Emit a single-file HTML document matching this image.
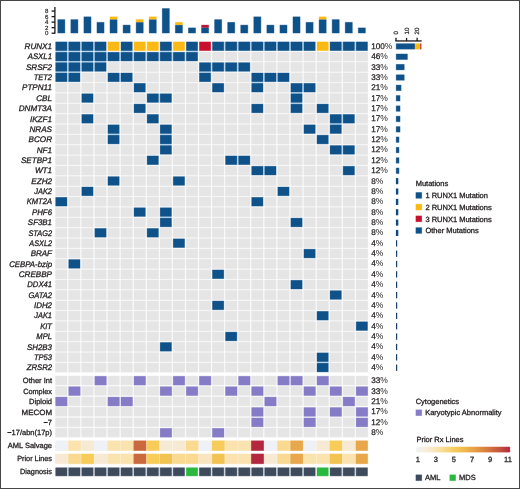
<!DOCTYPE html>
<html lang="en"><head><meta charset="utf-8"><title>RUNX1 oncoprint</title>
<style>
html,body{margin:0;padding:0;background:#fff;}
body{width:520px;height:489px;overflow:hidden;position:relative;}
#fig{position:absolute;left:0;top:0;width:520px;height:489px;display:block;}
#frame{position:absolute;left:0;top:0;width:518px;height:487px;border:1px solid #474747;pointer-events:none;}
text{font-family:"Liberation Sans",Arial,Helvetica,sans-serif;font-size:8px;fill:#231f20;stroke:#231f20;stroke-width:0.3px;text-rendering:geometricPrecision;}
.g{font-style:italic;font-size:8.1px;}
.ax{font-size:6.1px;stroke-width:0.18px;}
.rx{font-size:6.2px;stroke-width:0.2px;}
.lg{font-size:7.5px;}
.cy{font-size:7.5px;}
.pc{font-size:8.2px;stroke-width:0.25px;}
.pt{font-size:8.5px;stroke:none;}
</style></head><body>
<svg id="fig" width="520" height="489" viewBox="0 0 520 489">
<defs>
<linearGradient id="hg" x1="0" y1="0" x2="1" y2="0"><stop offset="0" stop-color="#f2f3f4"/><stop offset="0.1" stop-color="#f7efdc"/><stop offset="0.2" stop-color="#f9e6b8"/><stop offset="0.3" stop-color="#f9da8c"/><stop offset="0.4" stop-color="#f7cd5c"/><stop offset="0.5" stop-color="#f2bc4c"/><stop offset="0.6" stop-color="#e9a444"/><stop offset="0.7" stop-color="#df8a40"/><stop offset="0.8" stop-color="#d26e3e"/><stop offset="0.9" stop-color="#c4503e"/><stop offset="1" stop-color="#b4283f"/></linearGradient>
</defs>
<rect x="0" y="0" width="520" height="489" fill="#fff"/>
<defs><g id="shp">
<rect x="-2" y="-2" width="524" height="493" fill="#fff"/>
<rect x="57.55" y="19.38" width="7.5" height="13.83" fill="#0f5289"/>
<rect x="70.62" y="19.38" width="7.5" height="13.83" fill="#0f5289"/>
<rect x="83.69" y="16.61" width="7.5" height="16.59" fill="#0f5289"/>
<rect x="96.75" y="22.14" width="7.5" height="11.06" fill="#0f5289"/>
<rect x="109.82" y="19.38" width="7.5" height="13.83" fill="#0f5289"/>
<rect x="109.82" y="16.61" width="7.5" height="2.77" fill="#fdb913"/>
<rect x="122.89" y="24.91" width="7.5" height="8.29" fill="#0f5289"/>
<rect x="135.96" y="22.14" width="7.5" height="11.06" fill="#0f5289"/>
<rect x="135.96" y="19.38" width="7.5" height="2.77" fill="#fdb913"/>
<rect x="149.03" y="19.38" width="7.5" height="13.83" fill="#0f5289"/>
<rect x="149.03" y="16.61" width="7.5" height="2.77" fill="#fdb913"/>
<rect x="162.09" y="8.32" width="7.5" height="24.89" fill="#0f5289"/>
<rect x="175.16" y="24.91" width="7.5" height="8.29" fill="#0f5289"/>
<rect x="175.16" y="22.14" width="7.5" height="2.77" fill="#fdb913"/>
<rect x="188.23" y="27.67" width="7.5" height="5.53" fill="#0f5289"/>
<rect x="201.3" y="27.67" width="7.5" height="5.53" fill="#0f5289"/>
<rect x="201.3" y="24.91" width="7.5" height="2.77" fill="#b5123a"/>
<rect x="214.37" y="19.38" width="7.5" height="13.83" fill="#0f5289"/>
<rect x="227.43" y="22.14" width="7.5" height="11.06" fill="#0f5289"/>
<rect x="240.5" y="24.91" width="7.5" height="8.29" fill="#0f5289"/>
<rect x="253.57" y="16.61" width="7.5" height="16.59" fill="#0f5289"/>
<rect x="266.64" y="24.91" width="7.5" height="8.29" fill="#0f5289"/>
<rect x="279.71" y="24.91" width="7.5" height="8.29" fill="#0f5289"/>
<rect x="292.77" y="16.61" width="7.5" height="16.59" fill="#0f5289"/>
<rect x="305.84" y="22.14" width="7.5" height="11.06" fill="#0f5289"/>
<rect x="318.91" y="19.38" width="7.5" height="13.83" fill="#0f5289"/>
<rect x="318.91" y="16.61" width="7.5" height="2.77" fill="#fdb913"/>
<rect x="331.98" y="19.38" width="7.5" height="13.83" fill="#0f5289"/>
<rect x="345.05" y="22.14" width="7.5" height="11.06" fill="#0f5289"/>
<rect x="358.11" y="27.67" width="7.5" height="5.53" fill="#0f5289"/>
<rect x="67.05" y="41.7" width="1.57" height="9.1" fill="#c6e2f8"/>
<rect x="55.45" y="50.7" width="11.7" height="1.47" fill="#c6e2f8"/>
<rect x="80.12" y="41.7" width="1.57" height="9.1" fill="#c6e2f8"/>
<rect x="68.52" y="50.7" width="11.7" height="1.47" fill="#c6e2f8"/>
<rect x="93.19" y="41.7" width="1.57" height="9.1" fill="#c6e2f8"/>
<rect x="81.59" y="50.7" width="11.7" height="1.47" fill="#c6e2f8"/>
<rect x="94.65" y="50.7" width="11.7" height="1.47" fill="#c6e2f8"/>
<rect x="120.79" y="50.7" width="11.7" height="1.47" fill="#c6e2f8"/>
<rect x="159.99" y="50.7" width="11.7" height="1.47" fill="#c6e2f8"/>
<rect x="186.13" y="50.7" width="11.7" height="1.47" fill="#c6e2f8"/>
<rect x="223.87" y="41.7" width="1.57" height="9.1" fill="#c6e2f8"/>
<rect x="236.93" y="41.7" width="1.57" height="9.1" fill="#c6e2f8"/>
<rect x="250" y="41.7" width="1.57" height="9.1" fill="#c6e2f8"/>
<rect x="263.07" y="41.7" width="1.57" height="9.1" fill="#c6e2f8"/>
<rect x="276.14" y="41.7" width="1.57" height="9.1" fill="#c6e2f8"/>
<rect x="289.21" y="41.7" width="1.57" height="9.1" fill="#c6e2f8"/>
<rect x="302.27" y="41.7" width="1.57" height="9.1" fill="#c6e2f8"/>
<rect x="341.48" y="41.7" width="1.57" height="9.1" fill="#c6e2f8"/>
<rect x="354.55" y="41.7" width="1.57" height="9.1" fill="#c6e2f8"/>
<rect x="67.05" y="52.07" width="1.57" height="9.1" fill="#c6e2f8"/>
<rect x="55.45" y="61.06" width="11.7" height="1.47" fill="#c6e2f8"/>
<rect x="80.12" y="52.07" width="1.57" height="9.1" fill="#c6e2f8"/>
<rect x="68.52" y="61.06" width="11.7" height="1.47" fill="#c6e2f8"/>
<rect x="93.19" y="52.07" width="1.57" height="9.1" fill="#c6e2f8"/>
<rect x="81.59" y="61.06" width="11.7" height="1.47" fill="#c6e2f8"/>
<rect x="106.25" y="52.07" width="1.57" height="9.1" fill="#c6e2f8"/>
<rect x="94.65" y="61.06" width="11.7" height="1.47" fill="#c6e2f8"/>
<rect x="119.32" y="52.07" width="1.57" height="9.1" fill="#c6e2f8"/>
<rect x="132.39" y="52.07" width="1.57" height="9.1" fill="#c6e2f8"/>
<rect x="145.46" y="52.07" width="1.57" height="9.1" fill="#c6e2f8"/>
<rect x="158.53" y="52.07" width="1.57" height="9.1" fill="#c6e2f8"/>
<rect x="171.59" y="52.07" width="1.57" height="9.1" fill="#c6e2f8"/>
<rect x="184.66" y="52.07" width="1.57" height="9.1" fill="#c6e2f8"/>
<rect x="67.05" y="62.43" width="1.57" height="9.1" fill="#c6e2f8"/>
<rect x="55.45" y="71.43" width="11.7" height="1.47" fill="#c6e2f8"/>
<rect x="80.12" y="62.43" width="1.57" height="9.1" fill="#c6e2f8"/>
<rect x="68.52" y="71.43" width="11.7" height="1.47" fill="#c6e2f8"/>
<rect x="93.19" y="62.43" width="1.57" height="9.1" fill="#c6e2f8"/>
<rect x="210.8" y="62.43" width="1.57" height="9.1" fill="#c6e2f8"/>
<rect x="199.2" y="71.43" width="11.7" height="1.47" fill="#c6e2f8"/>
<rect x="223.87" y="62.43" width="1.57" height="9.1" fill="#c6e2f8"/>
<rect x="236.93" y="62.43" width="1.57" height="9.1" fill="#c6e2f8"/>
<rect x="67.05" y="72.8" width="1.57" height="9.1" fill="#c6e2f8"/>
<rect x="119.32" y="72.8" width="1.57" height="9.1" fill="#c6e2f8"/>
<rect x="263.07" y="72.8" width="1.57" height="9.1" fill="#c6e2f8"/>
<rect x="251.47" y="81.8" width="11.7" height="1.47" fill="#c6e2f8"/>
<rect x="276.14" y="72.8" width="1.57" height="9.1" fill="#c6e2f8"/>
<rect x="302.27" y="83.16" width="1.57" height="9.1" fill="#c6e2f8"/>
<rect x="290.67" y="92.16" width="11.7" height="1.47" fill="#c6e2f8"/>
<rect x="158.53" y="93.53" width="1.57" height="9.1" fill="#c6e2f8"/>
<rect x="290.67" y="102.53" width="11.7" height="1.47" fill="#c6e2f8"/>
<rect x="341.48" y="114.26" width="1.57" height="9.1" fill="#c6e2f8"/>
<rect x="329.88" y="123.26" width="11.7" height="1.47" fill="#c6e2f8"/>
<rect x="107.72" y="133.62" width="11.7" height="1.47" fill="#c6e2f8"/>
<rect x="159.99" y="133.62" width="11.7" height="1.47" fill="#c6e2f8"/>
<rect x="159.99" y="143.99" width="11.7" height="1.47" fill="#c6e2f8"/>
<rect x="341.48" y="145.35" width="1.57" height="9.1" fill="#c6e2f8"/>
<rect x="236.93" y="155.71" width="1.57" height="9.1" fill="#c6e2f8"/>
<rect x="263.07" y="166.08" width="1.57" height="9.1" fill="#c6e2f8"/>
<rect x="159.99" y="216.54" width="11.7" height="1.47" fill="#c6e2f8"/>
<rect x="316.81" y="361.65" width="11.7" height="1.47" fill="#c6e2f8"/>
<rect x="55.45" y="41.7" width="11.7" height="9.1" fill="#0f5289"/>
<rect x="68.52" y="41.7" width="11.7" height="9.1" fill="#0f5289"/>
<rect x="81.59" y="41.7" width="11.7" height="9.1" fill="#0f5289"/>
<rect x="94.65" y="41.7" width="11.7" height="9.1" fill="#0f5289"/>
<rect x="107.72" y="41.7" width="11.7" height="9.1" fill="#fdb913"/>
<rect x="120.79" y="41.7" width="11.7" height="9.1" fill="#0f5289"/>
<rect x="133.86" y="41.7" width="11.7" height="9.1" fill="#fdb913"/>
<rect x="146.93" y="41.7" width="11.7" height="9.1" fill="#fdb913"/>
<rect x="159.99" y="41.7" width="11.7" height="9.1" fill="#0f5289"/>
<rect x="173.06" y="41.7" width="11.7" height="9.1" fill="#fdb913"/>
<rect x="186.13" y="41.7" width="11.7" height="9.1" fill="#0f5289"/>
<rect x="199.2" y="41.7" width="11.7" height="9.1" fill="#c8102e"/>
<rect x="212.27" y="41.7" width="11.7" height="9.1" fill="#0f5289"/>
<rect x="225.33" y="41.7" width="11.7" height="9.1" fill="#0f5289"/>
<rect x="238.4" y="41.7" width="11.7" height="9.1" fill="#0f5289"/>
<rect x="251.47" y="41.7" width="11.7" height="9.1" fill="#0f5289"/>
<rect x="264.54" y="41.7" width="11.7" height="9.1" fill="#0f5289"/>
<rect x="277.61" y="41.7" width="11.7" height="9.1" fill="#0f5289"/>
<rect x="290.67" y="41.7" width="11.7" height="9.1" fill="#0f5289"/>
<rect x="303.74" y="41.7" width="11.7" height="9.1" fill="#0f5289"/>
<rect x="316.81" y="41.7" width="11.7" height="9.1" fill="#fdb913"/>
<rect x="329.88" y="41.7" width="11.7" height="9.1" fill="#0f5289"/>
<rect x="342.95" y="41.7" width="11.7" height="9.1" fill="#0f5289"/>
<rect x="356.01" y="41.7" width="11.7" height="9.1" fill="#0f5289"/>
<rect x="396" y="43.45" width="19.03" height="5.9" fill="#0f5289"/>
<rect x="415.03" y="43.45" width="5.29" height="5.9" fill="#fdb913"/>
<rect x="420.31" y="43.45" width="1.06" height="5.9" fill="#b01029"/>
<rect x="55.45" y="52.07" width="11.7" height="9.1" fill="#0f5289"/>
<rect x="68.52" y="52.07" width="11.7" height="9.1" fill="#0f5289"/>
<rect x="81.59" y="52.07" width="11.7" height="9.1" fill="#0f5289"/>
<rect x="94.65" y="52.07" width="11.7" height="9.1" fill="#0f5289"/>
<rect x="107.72" y="52.07" width="11.7" height="9.1" fill="#0f5289"/>
<rect x="120.79" y="52.07" width="11.7" height="9.1" fill="#0f5289"/>
<rect x="133.86" y="52.07" width="11.7" height="9.1" fill="#0f5289"/>
<rect x="146.93" y="52.07" width="11.7" height="9.1" fill="#0f5289"/>
<rect x="159.99" y="52.07" width="11.7" height="9.1" fill="#0f5289"/>
<rect x="173.06" y="52.07" width="11.7" height="9.1" fill="#0f5289"/>
<rect x="186.13" y="52.07" width="11.7" height="9.1" fill="#0f5289"/>
<rect x="199.05" y="51.84" width="12" height="9.54" fill="#e5e5e5"/>
<rect x="212.12" y="51.84" width="12" height="9.54" fill="#e5e5e5"/>
<rect x="225.18" y="51.84" width="12" height="9.54" fill="#e5e5e5"/>
<rect x="238.25" y="51.84" width="12" height="9.54" fill="#e5e5e5"/>
<rect x="251.32" y="51.84" width="12" height="9.54" fill="#e5e5e5"/>
<rect x="264.39" y="51.84" width="12" height="9.54" fill="#e5e5e5"/>
<rect x="277.46" y="51.84" width="12" height="9.54" fill="#e5e5e5"/>
<rect x="290.52" y="51.84" width="12" height="9.54" fill="#e5e5e5"/>
<rect x="303.59" y="51.84" width="12" height="9.54" fill="#e5e5e5"/>
<rect x="316.66" y="51.84" width="12" height="9.54" fill="#e5e5e5"/>
<rect x="329.73" y="51.84" width="12" height="9.54" fill="#e5e5e5"/>
<rect x="342.8" y="51.84" width="12" height="9.54" fill="#e5e5e5"/>
<rect x="355.86" y="51.84" width="12" height="9.54" fill="#e5e5e5"/>
<rect x="396" y="53.81" width="11.63" height="5.9" fill="#0f5289"/>
<rect x="55.45" y="62.43" width="11.7" height="9.1" fill="#0f5289"/>
<rect x="68.52" y="62.43" width="11.7" height="9.1" fill="#0f5289"/>
<rect x="81.59" y="62.43" width="11.7" height="9.1" fill="#0f5289"/>
<rect x="94.65" y="62.43" width="11.7" height="9.1" fill="#0f5289"/>
<rect x="107.57" y="62.21" width="12" height="9.54" fill="#e5e5e5"/>
<rect x="120.64" y="62.21" width="12" height="9.54" fill="#e5e5e5"/>
<rect x="133.71" y="62.21" width="12" height="9.54" fill="#e5e5e5"/>
<rect x="146.78" y="62.21" width="12" height="9.54" fill="#e5e5e5"/>
<rect x="159.84" y="62.21" width="12" height="9.54" fill="#e5e5e5"/>
<rect x="172.91" y="62.21" width="12" height="9.54" fill="#e5e5e5"/>
<rect x="185.98" y="62.21" width="12" height="9.54" fill="#e5e5e5"/>
<rect x="199.2" y="62.43" width="11.7" height="9.1" fill="#0f5289"/>
<rect x="212.27" y="62.43" width="11.7" height="9.1" fill="#0f5289"/>
<rect x="225.33" y="62.43" width="11.7" height="9.1" fill="#0f5289"/>
<rect x="238.4" y="62.43" width="11.7" height="9.1" fill="#0f5289"/>
<rect x="251.32" y="62.21" width="12" height="9.54" fill="#e5e5e5"/>
<rect x="264.39" y="62.21" width="12" height="9.54" fill="#e5e5e5"/>
<rect x="277.46" y="62.21" width="12" height="9.54" fill="#e5e5e5"/>
<rect x="290.52" y="62.21" width="12" height="9.54" fill="#e5e5e5"/>
<rect x="303.59" y="62.21" width="12" height="9.54" fill="#e5e5e5"/>
<rect x="316.66" y="62.21" width="12" height="9.54" fill="#e5e5e5"/>
<rect x="329.73" y="62.21" width="12" height="9.54" fill="#e5e5e5"/>
<rect x="342.8" y="62.21" width="12" height="9.54" fill="#e5e5e5"/>
<rect x="355.86" y="62.21" width="12" height="9.54" fill="#e5e5e5"/>
<rect x="396" y="64.18" width="8.46" height="5.9" fill="#0f5289"/>
<rect x="55.45" y="72.8" width="11.7" height="9.1" fill="#0f5289"/>
<rect x="68.52" y="72.8" width="11.7" height="9.1" fill="#0f5289"/>
<rect x="81.44" y="72.58" width="12" height="9.54" fill="#e5e5e5"/>
<rect x="94.5" y="72.58" width="12" height="9.54" fill="#e5e5e5"/>
<rect x="107.72" y="72.8" width="11.7" height="9.1" fill="#0f5289"/>
<rect x="120.79" y="72.8" width="11.7" height="9.1" fill="#0f5289"/>
<rect x="133.71" y="72.58" width="12" height="9.54" fill="#e5e5e5"/>
<rect x="146.78" y="72.58" width="12" height="9.54" fill="#e5e5e5"/>
<rect x="159.84" y="72.58" width="12" height="9.54" fill="#e5e5e5"/>
<rect x="172.91" y="72.58" width="12" height="9.54" fill="#e5e5e5"/>
<rect x="185.98" y="72.58" width="12" height="9.54" fill="#e5e5e5"/>
<rect x="199.2" y="72.8" width="11.7" height="9.1" fill="#0f5289"/>
<rect x="212.12" y="72.58" width="12" height="9.54" fill="#e5e5e5"/>
<rect x="225.18" y="72.58" width="12" height="9.54" fill="#e5e5e5"/>
<rect x="238.25" y="72.58" width="12" height="9.54" fill="#e5e5e5"/>
<rect x="251.47" y="72.8" width="11.7" height="9.1" fill="#0f5289"/>
<rect x="264.54" y="72.8" width="11.7" height="9.1" fill="#0f5289"/>
<rect x="277.61" y="72.8" width="11.7" height="9.1" fill="#0f5289"/>
<rect x="290.52" y="72.58" width="12" height="9.54" fill="#e5e5e5"/>
<rect x="303.59" y="72.58" width="12" height="9.54" fill="#e5e5e5"/>
<rect x="316.66" y="72.58" width="12" height="9.54" fill="#e5e5e5"/>
<rect x="329.73" y="72.58" width="12" height="9.54" fill="#e5e5e5"/>
<rect x="342.8" y="72.58" width="12" height="9.54" fill="#e5e5e5"/>
<rect x="355.86" y="72.58" width="12" height="9.54" fill="#e5e5e5"/>
<rect x="396" y="74.55" width="8.46" height="5.9" fill="#0f5289"/>
<rect x="55.3" y="82.94" width="12" height="9.54" fill="#e5e5e5"/>
<rect x="68.37" y="82.94" width="12" height="9.54" fill="#e5e5e5"/>
<rect x="81.44" y="82.94" width="12" height="9.54" fill="#e5e5e5"/>
<rect x="94.5" y="82.94" width="12" height="9.54" fill="#e5e5e5"/>
<rect x="107.57" y="82.94" width="12" height="9.54" fill="#e5e5e5"/>
<rect x="120.64" y="82.94" width="12" height="9.54" fill="#e5e5e5"/>
<rect x="133.86" y="83.16" width="11.7" height="9.1" fill="#0f5289"/>
<rect x="146.78" y="82.94" width="12" height="9.54" fill="#e5e5e5"/>
<rect x="159.84" y="82.94" width="12" height="9.54" fill="#e5e5e5"/>
<rect x="172.91" y="82.94" width="12" height="9.54" fill="#e5e5e5"/>
<rect x="185.98" y="82.94" width="12" height="9.54" fill="#e5e5e5"/>
<rect x="199.05" y="82.94" width="12" height="9.54" fill="#e5e5e5"/>
<rect x="212.27" y="83.16" width="11.7" height="9.1" fill="#0f5289"/>
<rect x="225.18" y="82.94" width="12" height="9.54" fill="#e5e5e5"/>
<rect x="238.25" y="82.94" width="12" height="9.54" fill="#e5e5e5"/>
<rect x="251.47" y="83.16" width="11.7" height="9.1" fill="#0f5289"/>
<rect x="264.39" y="82.94" width="12" height="9.54" fill="#e5e5e5"/>
<rect x="277.46" y="82.94" width="12" height="9.54" fill="#e5e5e5"/>
<rect x="290.67" y="83.16" width="11.7" height="9.1" fill="#0f5289"/>
<rect x="303.74" y="83.16" width="11.7" height="9.1" fill="#0f5289"/>
<rect x="316.66" y="82.94" width="12" height="9.54" fill="#e5e5e5"/>
<rect x="329.73" y="82.94" width="12" height="9.54" fill="#e5e5e5"/>
<rect x="342.8" y="82.94" width="12" height="9.54" fill="#e5e5e5"/>
<rect x="355.86" y="82.94" width="12" height="9.54" fill="#e5e5e5"/>
<rect x="396" y="84.91" width="5.29" height="5.9" fill="#0f5289"/>
<rect x="55.3" y="93.31" width="12" height="9.54" fill="#e5e5e5"/>
<rect x="68.37" y="93.31" width="12" height="9.54" fill="#e5e5e5"/>
<rect x="81.59" y="93.53" width="11.7" height="9.1" fill="#0f5289"/>
<rect x="94.5" y="93.31" width="12" height="9.54" fill="#e5e5e5"/>
<rect x="107.57" y="93.31" width="12" height="9.54" fill="#e5e5e5"/>
<rect x="120.64" y="93.31" width="12" height="9.54" fill="#e5e5e5"/>
<rect x="133.71" y="93.31" width="12" height="9.54" fill="#e5e5e5"/>
<rect x="146.93" y="93.53" width="11.7" height="9.1" fill="#0f5289"/>
<rect x="159.99" y="93.53" width="11.7" height="9.1" fill="#0f5289"/>
<rect x="172.91" y="93.31" width="12" height="9.54" fill="#e5e5e5"/>
<rect x="185.98" y="93.31" width="12" height="9.54" fill="#e5e5e5"/>
<rect x="199.05" y="93.31" width="12" height="9.54" fill="#e5e5e5"/>
<rect x="212.12" y="93.31" width="12" height="9.54" fill="#e5e5e5"/>
<rect x="225.18" y="93.31" width="12" height="9.54" fill="#e5e5e5"/>
<rect x="238.25" y="93.31" width="12" height="9.54" fill="#e5e5e5"/>
<rect x="251.32" y="93.31" width="12" height="9.54" fill="#e5e5e5"/>
<rect x="264.39" y="93.31" width="12" height="9.54" fill="#e5e5e5"/>
<rect x="277.46" y="93.31" width="12" height="9.54" fill="#e5e5e5"/>
<rect x="290.67" y="93.53" width="11.7" height="9.1" fill="#0f5289"/>
<rect x="303.59" y="93.31" width="12" height="9.54" fill="#e5e5e5"/>
<rect x="316.66" y="93.31" width="12" height="9.54" fill="#e5e5e5"/>
<rect x="329.73" y="93.31" width="12" height="9.54" fill="#e5e5e5"/>
<rect x="342.8" y="93.31" width="12" height="9.54" fill="#e5e5e5"/>
<rect x="355.86" y="93.31" width="12" height="9.54" fill="#e5e5e5"/>
<rect x="396" y="95.28" width="4.23" height="5.9" fill="#0f5289"/>
<rect x="55.3" y="103.67" width="12" height="9.54" fill="#e5e5e5"/>
<rect x="68.37" y="103.67" width="12" height="9.54" fill="#e5e5e5"/>
<rect x="81.44" y="103.67" width="12" height="9.54" fill="#e5e5e5"/>
<rect x="94.5" y="103.67" width="12" height="9.54" fill="#e5e5e5"/>
<rect x="107.57" y="103.67" width="12" height="9.54" fill="#e5e5e5"/>
<rect x="120.64" y="103.67" width="12" height="9.54" fill="#e5e5e5"/>
<rect x="133.86" y="103.89" width="11.7" height="9.1" fill="#0f5289"/>
<rect x="146.78" y="103.67" width="12" height="9.54" fill="#e5e5e5"/>
<rect x="159.84" y="103.67" width="12" height="9.54" fill="#e5e5e5"/>
<rect x="172.91" y="103.67" width="12" height="9.54" fill="#e5e5e5"/>
<rect x="185.98" y="103.67" width="12" height="9.54" fill="#e5e5e5"/>
<rect x="199.05" y="103.67" width="12" height="9.54" fill="#e5e5e5"/>
<rect x="212.12" y="103.67" width="12" height="9.54" fill="#e5e5e5"/>
<rect x="225.18" y="103.67" width="12" height="9.54" fill="#e5e5e5"/>
<rect x="238.25" y="103.67" width="12" height="9.54" fill="#e5e5e5"/>
<rect x="251.47" y="103.89" width="11.7" height="9.1" fill="#0f5289"/>
<rect x="264.39" y="103.67" width="12" height="9.54" fill="#e5e5e5"/>
<rect x="277.46" y="103.67" width="12" height="9.54" fill="#e5e5e5"/>
<rect x="290.67" y="103.89" width="11.7" height="9.1" fill="#0f5289"/>
<rect x="303.59" y="103.67" width="12" height="9.54" fill="#e5e5e5"/>
<rect x="316.81" y="103.89" width="11.7" height="9.1" fill="#0f5289"/>
<rect x="329.73" y="103.67" width="12" height="9.54" fill="#e5e5e5"/>
<rect x="342.8" y="103.67" width="12" height="9.54" fill="#e5e5e5"/>
<rect x="355.86" y="103.67" width="12" height="9.54" fill="#e5e5e5"/>
<rect x="396" y="105.64" width="4.23" height="5.9" fill="#0f5289"/>
<rect x="55.3" y="114.04" width="12" height="9.54" fill="#e5e5e5"/>
<rect x="68.37" y="114.04" width="12" height="9.54" fill="#e5e5e5"/>
<rect x="81.59" y="114.26" width="11.7" height="9.1" fill="#0f5289"/>
<rect x="94.5" y="114.04" width="12" height="9.54" fill="#e5e5e5"/>
<rect x="107.57" y="114.04" width="12" height="9.54" fill="#e5e5e5"/>
<rect x="120.64" y="114.04" width="12" height="9.54" fill="#e5e5e5"/>
<rect x="133.71" y="114.04" width="12" height="9.54" fill="#e5e5e5"/>
<rect x="146.93" y="114.26" width="11.7" height="9.1" fill="#0f5289"/>
<rect x="159.84" y="114.04" width="12" height="9.54" fill="#e5e5e5"/>
<rect x="172.91" y="114.04" width="12" height="9.54" fill="#e5e5e5"/>
<rect x="185.98" y="114.04" width="12" height="9.54" fill="#e5e5e5"/>
<rect x="199.05" y="114.04" width="12" height="9.54" fill="#e5e5e5"/>
<rect x="212.12" y="114.04" width="12" height="9.54" fill="#e5e5e5"/>
<rect x="225.18" y="114.04" width="12" height="9.54" fill="#e5e5e5"/>
<rect x="238.25" y="114.04" width="12" height="9.54" fill="#e5e5e5"/>
<rect x="251.32" y="114.04" width="12" height="9.54" fill="#e5e5e5"/>
<rect x="264.39" y="114.04" width="12" height="9.54" fill="#e5e5e5"/>
<rect x="277.46" y="114.04" width="12" height="9.54" fill="#e5e5e5"/>
<rect x="290.52" y="114.04" width="12" height="9.54" fill="#e5e5e5"/>
<rect x="303.59" y="114.04" width="12" height="9.54" fill="#e5e5e5"/>
<rect x="316.66" y="114.04" width="12" height="9.54" fill="#e5e5e5"/>
<rect x="329.88" y="114.26" width="11.7" height="9.1" fill="#0f5289"/>
<rect x="342.95" y="114.26" width="11.7" height="9.1" fill="#0f5289"/>
<rect x="355.86" y="114.04" width="12" height="9.54" fill="#e5e5e5"/>
<rect x="396" y="116.01" width="4.23" height="5.9" fill="#0f5289"/>
<rect x="55.3" y="124.4" width="12" height="9.54" fill="#e5e5e5"/>
<rect x="68.37" y="124.4" width="12" height="9.54" fill="#e5e5e5"/>
<rect x="81.44" y="124.4" width="12" height="9.54" fill="#e5e5e5"/>
<rect x="94.5" y="124.4" width="12" height="9.54" fill="#e5e5e5"/>
<rect x="107.72" y="124.62" width="11.7" height="9.1" fill="#0f5289"/>
<rect x="120.64" y="124.4" width="12" height="9.54" fill="#e5e5e5"/>
<rect x="133.71" y="124.4" width="12" height="9.54" fill="#e5e5e5"/>
<rect x="146.78" y="124.4" width="12" height="9.54" fill="#e5e5e5"/>
<rect x="159.99" y="124.62" width="11.7" height="9.1" fill="#0f5289"/>
<rect x="172.91" y="124.4" width="12" height="9.54" fill="#e5e5e5"/>
<rect x="185.98" y="124.4" width="12" height="9.54" fill="#e5e5e5"/>
<rect x="199.05" y="124.4" width="12" height="9.54" fill="#e5e5e5"/>
<rect x="212.12" y="124.4" width="12" height="9.54" fill="#e5e5e5"/>
<rect x="225.18" y="124.4" width="12" height="9.54" fill="#e5e5e5"/>
<rect x="238.25" y="124.4" width="12" height="9.54" fill="#e5e5e5"/>
<rect x="251.32" y="124.4" width="12" height="9.54" fill="#e5e5e5"/>
<rect x="264.39" y="124.4" width="12" height="9.54" fill="#e5e5e5"/>
<rect x="277.46" y="124.4" width="12" height="9.54" fill="#e5e5e5"/>
<rect x="290.52" y="124.4" width="12" height="9.54" fill="#e5e5e5"/>
<rect x="303.74" y="124.62" width="11.7" height="9.1" fill="#0f5289"/>
<rect x="316.66" y="124.4" width="12" height="9.54" fill="#e5e5e5"/>
<rect x="329.88" y="124.62" width="11.7" height="9.1" fill="#0f5289"/>
<rect x="342.8" y="124.4" width="12" height="9.54" fill="#e5e5e5"/>
<rect x="355.86" y="124.4" width="12" height="9.54" fill="#e5e5e5"/>
<rect x="396" y="126.37" width="4.23" height="5.9" fill="#0f5289"/>
<rect x="55.3" y="134.76" width="12" height="9.54" fill="#e5e5e5"/>
<rect x="68.37" y="134.76" width="12" height="9.54" fill="#e5e5e5"/>
<rect x="81.44" y="134.76" width="12" height="9.54" fill="#e5e5e5"/>
<rect x="94.5" y="134.76" width="12" height="9.54" fill="#e5e5e5"/>
<rect x="107.72" y="134.98" width="11.7" height="9.1" fill="#0f5289"/>
<rect x="120.64" y="134.76" width="12" height="9.54" fill="#e5e5e5"/>
<rect x="133.71" y="134.76" width="12" height="9.54" fill="#e5e5e5"/>
<rect x="146.78" y="134.76" width="12" height="9.54" fill="#e5e5e5"/>
<rect x="159.99" y="134.98" width="11.7" height="9.1" fill="#0f5289"/>
<rect x="172.91" y="134.76" width="12" height="9.54" fill="#e5e5e5"/>
<rect x="185.98" y="134.76" width="12" height="9.54" fill="#e5e5e5"/>
<rect x="199.05" y="134.76" width="12" height="9.54" fill="#e5e5e5"/>
<rect x="212.12" y="134.76" width="12" height="9.54" fill="#e5e5e5"/>
<rect x="225.18" y="134.76" width="12" height="9.54" fill="#e5e5e5"/>
<rect x="238.25" y="134.76" width="12" height="9.54" fill="#e5e5e5"/>
<rect x="251.32" y="134.76" width="12" height="9.54" fill="#e5e5e5"/>
<rect x="264.39" y="134.76" width="12" height="9.54" fill="#e5e5e5"/>
<rect x="277.46" y="134.76" width="12" height="9.54" fill="#e5e5e5"/>
<rect x="290.52" y="134.76" width="12" height="9.54" fill="#e5e5e5"/>
<rect x="303.59" y="134.76" width="12" height="9.54" fill="#e5e5e5"/>
<rect x="316.81" y="134.98" width="11.7" height="9.1" fill="#0f5289"/>
<rect x="329.73" y="134.76" width="12" height="9.54" fill="#e5e5e5"/>
<rect x="342.8" y="134.76" width="12" height="9.54" fill="#e5e5e5"/>
<rect x="355.86" y="134.76" width="12" height="9.54" fill="#e5e5e5"/>
<rect x="396" y="136.74" width="3.17" height="5.9" fill="#0f5289"/>
<rect x="55.3" y="145.13" width="12" height="9.54" fill="#e5e5e5"/>
<rect x="68.37" y="145.13" width="12" height="9.54" fill="#e5e5e5"/>
<rect x="81.44" y="145.13" width="12" height="9.54" fill="#e5e5e5"/>
<rect x="94.5" y="145.13" width="12" height="9.54" fill="#e5e5e5"/>
<rect x="107.57" y="145.13" width="12" height="9.54" fill="#e5e5e5"/>
<rect x="120.64" y="145.13" width="12" height="9.54" fill="#e5e5e5"/>
<rect x="133.71" y="145.13" width="12" height="9.54" fill="#e5e5e5"/>
<rect x="146.78" y="145.13" width="12" height="9.54" fill="#e5e5e5"/>
<rect x="159.99" y="145.35" width="11.7" height="9.1" fill="#0f5289"/>
<rect x="172.91" y="145.13" width="12" height="9.54" fill="#e5e5e5"/>
<rect x="185.98" y="145.13" width="12" height="9.54" fill="#e5e5e5"/>
<rect x="199.05" y="145.13" width="12" height="9.54" fill="#e5e5e5"/>
<rect x="212.12" y="145.13" width="12" height="9.54" fill="#e5e5e5"/>
<rect x="225.18" y="145.13" width="12" height="9.54" fill="#e5e5e5"/>
<rect x="238.25" y="145.13" width="12" height="9.54" fill="#e5e5e5"/>
<rect x="251.32" y="145.13" width="12" height="9.54" fill="#e5e5e5"/>
<rect x="264.39" y="145.13" width="12" height="9.54" fill="#e5e5e5"/>
<rect x="277.46" y="145.13" width="12" height="9.54" fill="#e5e5e5"/>
<rect x="290.52" y="145.13" width="12" height="9.54" fill="#e5e5e5"/>
<rect x="303.59" y="145.13" width="12" height="9.54" fill="#e5e5e5"/>
<rect x="316.66" y="145.13" width="12" height="9.54" fill="#e5e5e5"/>
<rect x="329.88" y="145.35" width="11.7" height="9.1" fill="#0f5289"/>
<rect x="342.95" y="145.35" width="11.7" height="9.1" fill="#0f5289"/>
<rect x="355.86" y="145.13" width="12" height="9.54" fill="#e5e5e5"/>
<rect x="396" y="147.1" width="3.17" height="5.9" fill="#0f5289"/>
<rect x="55.3" y="155.49" width="12" height="9.54" fill="#e5e5e5"/>
<rect x="68.37" y="155.49" width="12" height="9.54" fill="#e5e5e5"/>
<rect x="81.44" y="155.49" width="12" height="9.54" fill="#e5e5e5"/>
<rect x="94.5" y="155.49" width="12" height="9.54" fill="#e5e5e5"/>
<rect x="107.57" y="155.49" width="12" height="9.54" fill="#e5e5e5"/>
<rect x="120.64" y="155.49" width="12" height="9.54" fill="#e5e5e5"/>
<rect x="133.71" y="155.49" width="12" height="9.54" fill="#e5e5e5"/>
<rect x="146.93" y="155.71" width="11.7" height="9.1" fill="#0f5289"/>
<rect x="159.84" y="155.49" width="12" height="9.54" fill="#e5e5e5"/>
<rect x="172.91" y="155.49" width="12" height="9.54" fill="#e5e5e5"/>
<rect x="185.98" y="155.49" width="12" height="9.54" fill="#e5e5e5"/>
<rect x="199.05" y="155.49" width="12" height="9.54" fill="#e5e5e5"/>
<rect x="212.12" y="155.49" width="12" height="9.54" fill="#e5e5e5"/>
<rect x="225.33" y="155.71" width="11.7" height="9.1" fill="#0f5289"/>
<rect x="238.4" y="155.71" width="11.7" height="9.1" fill="#0f5289"/>
<rect x="251.32" y="155.49" width="12" height="9.54" fill="#e5e5e5"/>
<rect x="264.39" y="155.49" width="12" height="9.54" fill="#e5e5e5"/>
<rect x="277.46" y="155.49" width="12" height="9.54" fill="#e5e5e5"/>
<rect x="290.52" y="155.49" width="12" height="9.54" fill="#e5e5e5"/>
<rect x="303.59" y="155.49" width="12" height="9.54" fill="#e5e5e5"/>
<rect x="316.66" y="155.49" width="12" height="9.54" fill="#e5e5e5"/>
<rect x="329.73" y="155.49" width="12" height="9.54" fill="#e5e5e5"/>
<rect x="342.8" y="155.49" width="12" height="9.54" fill="#e5e5e5"/>
<rect x="355.86" y="155.49" width="12" height="9.54" fill="#e5e5e5"/>
<rect x="396" y="157.47" width="3.17" height="5.9" fill="#0f5289"/>
<rect x="55.3" y="165.86" width="12" height="9.54" fill="#e5e5e5"/>
<rect x="68.37" y="165.86" width="12" height="9.54" fill="#e5e5e5"/>
<rect x="81.44" y="165.86" width="12" height="9.54" fill="#e5e5e5"/>
<rect x="94.5" y="165.86" width="12" height="9.54" fill="#e5e5e5"/>
<rect x="107.57" y="165.86" width="12" height="9.54" fill="#e5e5e5"/>
<rect x="120.64" y="165.86" width="12" height="9.54" fill="#e5e5e5"/>
<rect x="133.71" y="165.86" width="12" height="9.54" fill="#e5e5e5"/>
<rect x="146.78" y="165.86" width="12" height="9.54" fill="#e5e5e5"/>
<rect x="159.84" y="165.86" width="12" height="9.54" fill="#e5e5e5"/>
<rect x="172.91" y="165.86" width="12" height="9.54" fill="#e5e5e5"/>
<rect x="185.98" y="165.86" width="12" height="9.54" fill="#e5e5e5"/>
<rect x="199.05" y="165.86" width="12" height="9.54" fill="#e5e5e5"/>
<rect x="212.12" y="165.86" width="12" height="9.54" fill="#e5e5e5"/>
<rect x="225.18" y="165.86" width="12" height="9.54" fill="#e5e5e5"/>
<rect x="238.25" y="165.86" width="12" height="9.54" fill="#e5e5e5"/>
<rect x="251.47" y="166.08" width="11.7" height="9.1" fill="#0f5289"/>
<rect x="264.54" y="166.08" width="11.7" height="9.1" fill="#0f5289"/>
<rect x="277.46" y="165.86" width="12" height="9.54" fill="#e5e5e5"/>
<rect x="290.52" y="165.86" width="12" height="9.54" fill="#e5e5e5"/>
<rect x="303.59" y="165.86" width="12" height="9.54" fill="#e5e5e5"/>
<rect x="316.66" y="165.86" width="12" height="9.54" fill="#e5e5e5"/>
<rect x="329.73" y="165.86" width="12" height="9.54" fill="#e5e5e5"/>
<rect x="342.95" y="166.08" width="11.7" height="9.1" fill="#0f5289"/>
<rect x="355.86" y="165.86" width="12" height="9.54" fill="#e5e5e5"/>
<rect x="396" y="167.83" width="3.17" height="5.9" fill="#0f5289"/>
<rect x="55.3" y="176.22" width="12" height="9.54" fill="#e5e5e5"/>
<rect x="68.37" y="176.22" width="12" height="9.54" fill="#e5e5e5"/>
<rect x="81.44" y="176.22" width="12" height="9.54" fill="#e5e5e5"/>
<rect x="94.5" y="176.22" width="12" height="9.54" fill="#e5e5e5"/>
<rect x="107.72" y="176.44" width="11.7" height="9.1" fill="#0f5289"/>
<rect x="120.64" y="176.22" width="12" height="9.54" fill="#e5e5e5"/>
<rect x="133.71" y="176.22" width="12" height="9.54" fill="#e5e5e5"/>
<rect x="146.78" y="176.22" width="12" height="9.54" fill="#e5e5e5"/>
<rect x="159.84" y="176.22" width="12" height="9.54" fill="#e5e5e5"/>
<rect x="173.06" y="176.44" width="11.7" height="9.1" fill="#0f5289"/>
<rect x="185.98" y="176.22" width="12" height="9.54" fill="#e5e5e5"/>
<rect x="199.05" y="176.22" width="12" height="9.54" fill="#e5e5e5"/>
<rect x="212.12" y="176.22" width="12" height="9.54" fill="#e5e5e5"/>
<rect x="225.18" y="176.22" width="12" height="9.54" fill="#e5e5e5"/>
<rect x="238.25" y="176.22" width="12" height="9.54" fill="#e5e5e5"/>
<rect x="251.32" y="176.22" width="12" height="9.54" fill="#e5e5e5"/>
<rect x="264.39" y="176.22" width="12" height="9.54" fill="#e5e5e5"/>
<rect x="277.46" y="176.22" width="12" height="9.54" fill="#e5e5e5"/>
<rect x="290.52" y="176.22" width="12" height="9.54" fill="#e5e5e5"/>
<rect x="303.59" y="176.22" width="12" height="9.54" fill="#e5e5e5"/>
<rect x="316.66" y="176.22" width="12" height="9.54" fill="#e5e5e5"/>
<rect x="329.73" y="176.22" width="12" height="9.54" fill="#e5e5e5"/>
<rect x="342.8" y="176.22" width="12" height="9.54" fill="#e5e5e5"/>
<rect x="355.86" y="176.22" width="12" height="9.54" fill="#e5e5e5"/>
<rect x="55.3" y="186.59" width="12" height="9.54" fill="#e5e5e5"/>
<rect x="68.37" y="186.59" width="12" height="9.54" fill="#e5e5e5"/>
<rect x="81.59" y="186.81" width="11.7" height="9.1" fill="#0f5289"/>
<rect x="94.5" y="186.59" width="12" height="9.54" fill="#e5e5e5"/>
<rect x="107.57" y="186.59" width="12" height="9.54" fill="#e5e5e5"/>
<rect x="120.64" y="186.59" width="12" height="9.54" fill="#e5e5e5"/>
<rect x="133.71" y="186.59" width="12" height="9.54" fill="#e5e5e5"/>
<rect x="146.78" y="186.59" width="12" height="9.54" fill="#e5e5e5"/>
<rect x="159.84" y="186.59" width="12" height="9.54" fill="#e5e5e5"/>
<rect x="172.91" y="186.59" width="12" height="9.54" fill="#e5e5e5"/>
<rect x="185.98" y="186.59" width="12" height="9.54" fill="#e5e5e5"/>
<rect x="199.05" y="186.59" width="12" height="9.54" fill="#e5e5e5"/>
<rect x="212.12" y="186.59" width="12" height="9.54" fill="#e5e5e5"/>
<rect x="225.18" y="186.59" width="12" height="9.54" fill="#e5e5e5"/>
<rect x="238.25" y="186.59" width="12" height="9.54" fill="#e5e5e5"/>
<rect x="251.32" y="186.59" width="12" height="9.54" fill="#e5e5e5"/>
<rect x="264.39" y="186.59" width="12" height="9.54" fill="#e5e5e5"/>
<rect x="277.61" y="186.81" width="11.7" height="9.1" fill="#0f5289"/>
<rect x="290.52" y="186.59" width="12" height="9.54" fill="#e5e5e5"/>
<rect x="303.59" y="186.59" width="12" height="9.54" fill="#e5e5e5"/>
<rect x="316.66" y="186.59" width="12" height="9.54" fill="#e5e5e5"/>
<rect x="329.73" y="186.59" width="12" height="9.54" fill="#e5e5e5"/>
<rect x="342.8" y="186.59" width="12" height="9.54" fill="#e5e5e5"/>
<rect x="355.86" y="186.59" width="12" height="9.54" fill="#e5e5e5"/>
<rect x="55.45" y="197.17" width="11.7" height="9.1" fill="#0f5289"/>
<rect x="68.37" y="196.95" width="12" height="9.54" fill="#e5e5e5"/>
<rect x="81.44" y="196.95" width="12" height="9.54" fill="#e5e5e5"/>
<rect x="94.5" y="196.95" width="12" height="9.54" fill="#e5e5e5"/>
<rect x="107.57" y="196.95" width="12" height="9.54" fill="#e5e5e5"/>
<rect x="120.64" y="196.95" width="12" height="9.54" fill="#e5e5e5"/>
<rect x="133.71" y="196.95" width="12" height="9.54" fill="#e5e5e5"/>
<rect x="146.78" y="196.95" width="12" height="9.54" fill="#e5e5e5"/>
<rect x="159.84" y="196.95" width="12" height="9.54" fill="#e5e5e5"/>
<rect x="172.91" y="196.95" width="12" height="9.54" fill="#e5e5e5"/>
<rect x="185.98" y="196.95" width="12" height="9.54" fill="#e5e5e5"/>
<rect x="199.05" y="196.95" width="12" height="9.54" fill="#e5e5e5"/>
<rect x="212.12" y="196.95" width="12" height="9.54" fill="#e5e5e5"/>
<rect x="225.18" y="196.95" width="12" height="9.54" fill="#e5e5e5"/>
<rect x="238.25" y="196.95" width="12" height="9.54" fill="#e5e5e5"/>
<rect x="251.47" y="197.17" width="11.7" height="9.1" fill="#0f5289"/>
<rect x="264.39" y="196.95" width="12" height="9.54" fill="#e5e5e5"/>
<rect x="277.46" y="196.95" width="12" height="9.54" fill="#e5e5e5"/>
<rect x="290.52" y="196.95" width="12" height="9.54" fill="#e5e5e5"/>
<rect x="303.59" y="196.95" width="12" height="9.54" fill="#e5e5e5"/>
<rect x="316.66" y="196.95" width="12" height="9.54" fill="#e5e5e5"/>
<rect x="329.73" y="196.95" width="12" height="9.54" fill="#e5e5e5"/>
<rect x="342.8" y="196.95" width="12" height="9.54" fill="#e5e5e5"/>
<rect x="355.86" y="196.95" width="12" height="9.54" fill="#e5e5e5"/>
<rect x="55.3" y="207.32" width="12" height="9.54" fill="#e5e5e5"/>
<rect x="68.37" y="207.32" width="12" height="9.54" fill="#e5e5e5"/>
<rect x="81.44" y="207.32" width="12" height="9.54" fill="#e5e5e5"/>
<rect x="94.5" y="207.32" width="12" height="9.54" fill="#e5e5e5"/>
<rect x="107.57" y="207.32" width="12" height="9.54" fill="#e5e5e5"/>
<rect x="120.64" y="207.32" width="12" height="9.54" fill="#e5e5e5"/>
<rect x="133.86" y="207.54" width="11.7" height="9.1" fill="#0f5289"/>
<rect x="146.78" y="207.32" width="12" height="9.54" fill="#e5e5e5"/>
<rect x="159.99" y="207.54" width="11.7" height="9.1" fill="#0f5289"/>
<rect x="172.91" y="207.32" width="12" height="9.54" fill="#e5e5e5"/>
<rect x="185.98" y="207.32" width="12" height="9.54" fill="#e5e5e5"/>
<rect x="199.05" y="207.32" width="12" height="9.54" fill="#e5e5e5"/>
<rect x="212.12" y="207.32" width="12" height="9.54" fill="#e5e5e5"/>
<rect x="225.18" y="207.32" width="12" height="9.54" fill="#e5e5e5"/>
<rect x="238.25" y="207.32" width="12" height="9.54" fill="#e5e5e5"/>
<rect x="251.32" y="207.32" width="12" height="9.54" fill="#e5e5e5"/>
<rect x="264.39" y="207.32" width="12" height="9.54" fill="#e5e5e5"/>
<rect x="277.46" y="207.32" width="12" height="9.54" fill="#e5e5e5"/>
<rect x="290.52" y="207.32" width="12" height="9.54" fill="#e5e5e5"/>
<rect x="303.59" y="207.32" width="12" height="9.54" fill="#e5e5e5"/>
<rect x="316.66" y="207.32" width="12" height="9.54" fill="#e5e5e5"/>
<rect x="329.73" y="207.32" width="12" height="9.54" fill="#e5e5e5"/>
<rect x="342.8" y="207.32" width="12" height="9.54" fill="#e5e5e5"/>
<rect x="355.86" y="207.32" width="12" height="9.54" fill="#e5e5e5"/>
<rect x="55.3" y="217.69" width="12" height="9.54" fill="#e5e5e5"/>
<rect x="68.37" y="217.69" width="12" height="9.54" fill="#e5e5e5"/>
<rect x="81.44" y="217.69" width="12" height="9.54" fill="#e5e5e5"/>
<rect x="94.5" y="217.69" width="12" height="9.54" fill="#e5e5e5"/>
<rect x="107.57" y="217.69" width="12" height="9.54" fill="#e5e5e5"/>
<rect x="120.64" y="217.69" width="12" height="9.54" fill="#e5e5e5"/>
<rect x="133.71" y="217.69" width="12" height="9.54" fill="#e5e5e5"/>
<rect x="146.78" y="217.69" width="12" height="9.54" fill="#e5e5e5"/>
<rect x="159.99" y="217.91" width="11.7" height="9.1" fill="#0f5289"/>
<rect x="172.91" y="217.69" width="12" height="9.54" fill="#e5e5e5"/>
<rect x="185.98" y="217.69" width="12" height="9.54" fill="#e5e5e5"/>
<rect x="199.05" y="217.69" width="12" height="9.54" fill="#e5e5e5"/>
<rect x="212.12" y="217.69" width="12" height="9.54" fill="#e5e5e5"/>
<rect x="225.18" y="217.69" width="12" height="9.54" fill="#e5e5e5"/>
<rect x="238.25" y="217.69" width="12" height="9.54" fill="#e5e5e5"/>
<rect x="251.32" y="217.69" width="12" height="9.54" fill="#e5e5e5"/>
<rect x="264.39" y="217.69" width="12" height="9.54" fill="#e5e5e5"/>
<rect x="277.46" y="217.69" width="12" height="9.54" fill="#e5e5e5"/>
<rect x="290.67" y="217.91" width="11.7" height="9.1" fill="#0f5289"/>
<rect x="303.59" y="217.69" width="12" height="9.54" fill="#e5e5e5"/>
<rect x="316.66" y="217.69" width="12" height="9.54" fill="#e5e5e5"/>
<rect x="329.73" y="217.69" width="12" height="9.54" fill="#e5e5e5"/>
<rect x="342.8" y="217.69" width="12" height="9.54" fill="#e5e5e5"/>
<rect x="355.86" y="217.69" width="12" height="9.54" fill="#e5e5e5"/>
<rect x="55.3" y="228.05" width="12" height="9.54" fill="#e5e5e5"/>
<rect x="68.37" y="228.05" width="12" height="9.54" fill="#e5e5e5"/>
<rect x="81.44" y="228.05" width="12" height="9.54" fill="#e5e5e5"/>
<rect x="94.65" y="228.27" width="11.7" height="9.1" fill="#0f5289"/>
<rect x="107.57" y="228.05" width="12" height="9.54" fill="#e5e5e5"/>
<rect x="120.64" y="228.05" width="12" height="9.54" fill="#e5e5e5"/>
<rect x="133.71" y="228.05" width="12" height="9.54" fill="#e5e5e5"/>
<rect x="146.93" y="228.27" width="11.7" height="9.1" fill="#0f5289"/>
<rect x="159.84" y="228.05" width="12" height="9.54" fill="#e5e5e5"/>
<rect x="172.91" y="228.05" width="12" height="9.54" fill="#e5e5e5"/>
<rect x="185.98" y="228.05" width="12" height="9.54" fill="#e5e5e5"/>
<rect x="199.05" y="228.05" width="12" height="9.54" fill="#e5e5e5"/>
<rect x="212.12" y="228.05" width="12" height="9.54" fill="#e5e5e5"/>
<rect x="225.18" y="228.05" width="12" height="9.54" fill="#e5e5e5"/>
<rect x="238.25" y="228.05" width="12" height="9.54" fill="#e5e5e5"/>
<rect x="251.32" y="228.05" width="12" height="9.54" fill="#e5e5e5"/>
<rect x="264.39" y="228.05" width="12" height="9.54" fill="#e5e5e5"/>
<rect x="277.46" y="228.05" width="12" height="9.54" fill="#e5e5e5"/>
<rect x="290.52" y="228.05" width="12" height="9.54" fill="#e5e5e5"/>
<rect x="303.59" y="228.05" width="12" height="9.54" fill="#e5e5e5"/>
<rect x="316.66" y="228.05" width="12" height="9.54" fill="#e5e5e5"/>
<rect x="329.73" y="228.05" width="12" height="9.54" fill="#e5e5e5"/>
<rect x="342.8" y="228.05" width="12" height="9.54" fill="#e5e5e5"/>
<rect x="355.86" y="228.05" width="12" height="9.54" fill="#e5e5e5"/>
<rect x="55.3" y="238.41" width="12" height="9.54" fill="#e5e5e5"/>
<rect x="68.37" y="238.41" width="12" height="9.54" fill="#e5e5e5"/>
<rect x="81.44" y="238.41" width="12" height="9.54" fill="#e5e5e5"/>
<rect x="94.5" y="238.41" width="12" height="9.54" fill="#e5e5e5"/>
<rect x="107.57" y="238.41" width="12" height="9.54" fill="#e5e5e5"/>
<rect x="120.64" y="238.41" width="12" height="9.54" fill="#e5e5e5"/>
<rect x="133.71" y="238.41" width="12" height="9.54" fill="#e5e5e5"/>
<rect x="146.78" y="238.41" width="12" height="9.54" fill="#e5e5e5"/>
<rect x="159.84" y="238.41" width="12" height="9.54" fill="#e5e5e5"/>
<rect x="173.06" y="238.63" width="11.7" height="9.1" fill="#0f5289"/>
<rect x="185.98" y="238.41" width="12" height="9.54" fill="#e5e5e5"/>
<rect x="199.05" y="238.41" width="12" height="9.54" fill="#e5e5e5"/>
<rect x="212.12" y="238.41" width="12" height="9.54" fill="#e5e5e5"/>
<rect x="225.18" y="238.41" width="12" height="9.54" fill="#e5e5e5"/>
<rect x="238.25" y="238.41" width="12" height="9.54" fill="#e5e5e5"/>
<rect x="251.32" y="238.41" width="12" height="9.54" fill="#e5e5e5"/>
<rect x="264.39" y="238.41" width="12" height="9.54" fill="#e5e5e5"/>
<rect x="277.46" y="238.41" width="12" height="9.54" fill="#e5e5e5"/>
<rect x="290.52" y="238.41" width="12" height="9.54" fill="#e5e5e5"/>
<rect x="303.59" y="238.41" width="12" height="9.54" fill="#e5e5e5"/>
<rect x="316.66" y="238.41" width="12" height="9.54" fill="#e5e5e5"/>
<rect x="329.73" y="238.41" width="12" height="9.54" fill="#e5e5e5"/>
<rect x="342.8" y="238.41" width="12" height="9.54" fill="#e5e5e5"/>
<rect x="355.86" y="238.41" width="12" height="9.54" fill="#e5e5e5"/>
<rect x="55.3" y="248.78" width="12" height="9.54" fill="#e5e5e5"/>
<rect x="68.37" y="248.78" width="12" height="9.54" fill="#e5e5e5"/>
<rect x="81.44" y="248.78" width="12" height="9.54" fill="#e5e5e5"/>
<rect x="94.5" y="248.78" width="12" height="9.54" fill="#e5e5e5"/>
<rect x="107.57" y="248.78" width="12" height="9.54" fill="#e5e5e5"/>
<rect x="120.64" y="248.78" width="12" height="9.54" fill="#e5e5e5"/>
<rect x="133.71" y="248.78" width="12" height="9.54" fill="#e5e5e5"/>
<rect x="146.78" y="248.78" width="12" height="9.54" fill="#e5e5e5"/>
<rect x="159.84" y="248.78" width="12" height="9.54" fill="#e5e5e5"/>
<rect x="172.91" y="248.78" width="12" height="9.54" fill="#e5e5e5"/>
<rect x="185.98" y="248.78" width="12" height="9.54" fill="#e5e5e5"/>
<rect x="199.05" y="248.78" width="12" height="9.54" fill="#e5e5e5"/>
<rect x="212.12" y="248.78" width="12" height="9.54" fill="#e5e5e5"/>
<rect x="225.18" y="248.78" width="12" height="9.54" fill="#e5e5e5"/>
<rect x="238.25" y="248.78" width="12" height="9.54" fill="#e5e5e5"/>
<rect x="251.32" y="248.78" width="12" height="9.54" fill="#e5e5e5"/>
<rect x="264.39" y="248.78" width="12" height="9.54" fill="#e5e5e5"/>
<rect x="277.46" y="248.78" width="12" height="9.54" fill="#e5e5e5"/>
<rect x="290.52" y="248.78" width="12" height="9.54" fill="#e5e5e5"/>
<rect x="303.74" y="249" width="11.7" height="9.1" fill="#0f5289"/>
<rect x="316.66" y="248.78" width="12" height="9.54" fill="#e5e5e5"/>
<rect x="329.73" y="248.78" width="12" height="9.54" fill="#e5e5e5"/>
<rect x="342.8" y="248.78" width="12" height="9.54" fill="#e5e5e5"/>
<rect x="355.86" y="248.78" width="12" height="9.54" fill="#e5e5e5"/>
<rect x="55.3" y="259.14" width="12" height="9.54" fill="#e5e5e5"/>
<rect x="68.52" y="259.36" width="11.7" height="9.1" fill="#0f5289"/>
<rect x="81.44" y="259.14" width="12" height="9.54" fill="#e5e5e5"/>
<rect x="94.5" y="259.14" width="12" height="9.54" fill="#e5e5e5"/>
<rect x="107.57" y="259.14" width="12" height="9.54" fill="#e5e5e5"/>
<rect x="120.64" y="259.14" width="12" height="9.54" fill="#e5e5e5"/>
<rect x="133.71" y="259.14" width="12" height="9.54" fill="#e5e5e5"/>
<rect x="146.78" y="259.14" width="12" height="9.54" fill="#e5e5e5"/>
<rect x="159.84" y="259.14" width="12" height="9.54" fill="#e5e5e5"/>
<rect x="172.91" y="259.14" width="12" height="9.54" fill="#e5e5e5"/>
<rect x="185.98" y="259.14" width="12" height="9.54" fill="#e5e5e5"/>
<rect x="199.05" y="259.14" width="12" height="9.54" fill="#e5e5e5"/>
<rect x="212.12" y="259.14" width="12" height="9.54" fill="#e5e5e5"/>
<rect x="225.18" y="259.14" width="12" height="9.54" fill="#e5e5e5"/>
<rect x="238.25" y="259.14" width="12" height="9.54" fill="#e5e5e5"/>
<rect x="251.32" y="259.14" width="12" height="9.54" fill="#e5e5e5"/>
<rect x="264.39" y="259.14" width="12" height="9.54" fill="#e5e5e5"/>
<rect x="277.46" y="259.14" width="12" height="9.54" fill="#e5e5e5"/>
<rect x="290.52" y="259.14" width="12" height="9.54" fill="#e5e5e5"/>
<rect x="303.59" y="259.14" width="12" height="9.54" fill="#e5e5e5"/>
<rect x="316.66" y="259.14" width="12" height="9.54" fill="#e5e5e5"/>
<rect x="329.73" y="259.14" width="12" height="9.54" fill="#e5e5e5"/>
<rect x="342.8" y="259.14" width="12" height="9.54" fill="#e5e5e5"/>
<rect x="355.86" y="259.14" width="12" height="9.54" fill="#e5e5e5"/>
<rect x="55.3" y="269.51" width="12" height="9.54" fill="#e5e5e5"/>
<rect x="68.37" y="269.51" width="12" height="9.54" fill="#e5e5e5"/>
<rect x="81.44" y="269.51" width="12" height="9.54" fill="#e5e5e5"/>
<rect x="94.5" y="269.51" width="12" height="9.54" fill="#e5e5e5"/>
<rect x="107.57" y="269.51" width="12" height="9.54" fill="#e5e5e5"/>
<rect x="120.64" y="269.51" width="12" height="9.54" fill="#e5e5e5"/>
<rect x="133.71" y="269.51" width="12" height="9.54" fill="#e5e5e5"/>
<rect x="146.78" y="269.51" width="12" height="9.54" fill="#e5e5e5"/>
<rect x="159.84" y="269.51" width="12" height="9.54" fill="#e5e5e5"/>
<rect x="172.91" y="269.51" width="12" height="9.54" fill="#e5e5e5"/>
<rect x="185.98" y="269.51" width="12" height="9.54" fill="#e5e5e5"/>
<rect x="199.05" y="269.51" width="12" height="9.54" fill="#e5e5e5"/>
<rect x="212.27" y="269.73" width="11.7" height="9.1" fill="#0f5289"/>
<rect x="225.18" y="269.51" width="12" height="9.54" fill="#e5e5e5"/>
<rect x="238.25" y="269.51" width="12" height="9.54" fill="#e5e5e5"/>
<rect x="251.32" y="269.51" width="12" height="9.54" fill="#e5e5e5"/>
<rect x="264.39" y="269.51" width="12" height="9.54" fill="#e5e5e5"/>
<rect x="277.46" y="269.51" width="12" height="9.54" fill="#e5e5e5"/>
<rect x="290.52" y="269.51" width="12" height="9.54" fill="#e5e5e5"/>
<rect x="303.59" y="269.51" width="12" height="9.54" fill="#e5e5e5"/>
<rect x="316.66" y="269.51" width="12" height="9.54" fill="#e5e5e5"/>
<rect x="329.73" y="269.51" width="12" height="9.54" fill="#e5e5e5"/>
<rect x="342.8" y="269.51" width="12" height="9.54" fill="#e5e5e5"/>
<rect x="355.86" y="269.51" width="12" height="9.54" fill="#e5e5e5"/>
<rect x="55.3" y="279.88" width="12" height="9.54" fill="#e5e5e5"/>
<rect x="68.37" y="279.88" width="12" height="9.54" fill="#e5e5e5"/>
<rect x="81.44" y="279.88" width="12" height="9.54" fill="#e5e5e5"/>
<rect x="94.5" y="279.88" width="12" height="9.54" fill="#e5e5e5"/>
<rect x="107.57" y="279.88" width="12" height="9.54" fill="#e5e5e5"/>
<rect x="120.64" y="279.88" width="12" height="9.54" fill="#e5e5e5"/>
<rect x="133.71" y="279.88" width="12" height="9.54" fill="#e5e5e5"/>
<rect x="146.78" y="279.88" width="12" height="9.54" fill="#e5e5e5"/>
<rect x="159.84" y="279.88" width="12" height="9.54" fill="#e5e5e5"/>
<rect x="172.91" y="279.88" width="12" height="9.54" fill="#e5e5e5"/>
<rect x="185.98" y="279.88" width="12" height="9.54" fill="#e5e5e5"/>
<rect x="199.05" y="279.88" width="12" height="9.54" fill="#e5e5e5"/>
<rect x="212.12" y="279.88" width="12" height="9.54" fill="#e5e5e5"/>
<rect x="225.18" y="279.88" width="12" height="9.54" fill="#e5e5e5"/>
<rect x="238.25" y="279.88" width="12" height="9.54" fill="#e5e5e5"/>
<rect x="251.32" y="279.88" width="12" height="9.54" fill="#e5e5e5"/>
<rect x="264.39" y="279.88" width="12" height="9.54" fill="#e5e5e5"/>
<rect x="277.46" y="279.88" width="12" height="9.54" fill="#e5e5e5"/>
<rect x="290.67" y="280.09" width="11.7" height="9.1" fill="#0f5289"/>
<rect x="303.59" y="279.88" width="12" height="9.54" fill="#e5e5e5"/>
<rect x="316.66" y="279.88" width="12" height="9.54" fill="#e5e5e5"/>
<rect x="329.73" y="279.88" width="12" height="9.54" fill="#e5e5e5"/>
<rect x="342.8" y="279.88" width="12" height="9.54" fill="#e5e5e5"/>
<rect x="355.86" y="279.88" width="12" height="9.54" fill="#e5e5e5"/>
<rect x="55.3" y="290.24" width="12" height="9.54" fill="#e5e5e5"/>
<rect x="68.37" y="290.24" width="12" height="9.54" fill="#e5e5e5"/>
<rect x="81.44" y="290.24" width="12" height="9.54" fill="#e5e5e5"/>
<rect x="94.5" y="290.24" width="12" height="9.54" fill="#e5e5e5"/>
<rect x="107.57" y="290.24" width="12" height="9.54" fill="#e5e5e5"/>
<rect x="120.64" y="290.24" width="12" height="9.54" fill="#e5e5e5"/>
<rect x="133.71" y="290.24" width="12" height="9.54" fill="#e5e5e5"/>
<rect x="146.78" y="290.24" width="12" height="9.54" fill="#e5e5e5"/>
<rect x="159.84" y="290.24" width="12" height="9.54" fill="#e5e5e5"/>
<rect x="172.91" y="290.24" width="12" height="9.54" fill="#e5e5e5"/>
<rect x="185.98" y="290.24" width="12" height="9.54" fill="#e5e5e5"/>
<rect x="199.05" y="290.24" width="12" height="9.54" fill="#e5e5e5"/>
<rect x="212.12" y="290.24" width="12" height="9.54" fill="#e5e5e5"/>
<rect x="225.18" y="290.24" width="12" height="9.54" fill="#e5e5e5"/>
<rect x="238.25" y="290.24" width="12" height="9.54" fill="#e5e5e5"/>
<rect x="251.32" y="290.24" width="12" height="9.54" fill="#e5e5e5"/>
<rect x="264.39" y="290.24" width="12" height="9.54" fill="#e5e5e5"/>
<rect x="277.46" y="290.24" width="12" height="9.54" fill="#e5e5e5"/>
<rect x="290.52" y="290.24" width="12" height="9.54" fill="#e5e5e5"/>
<rect x="303.59" y="290.24" width="12" height="9.54" fill="#e5e5e5"/>
<rect x="316.66" y="290.24" width="12" height="9.54" fill="#e5e5e5"/>
<rect x="329.88" y="290.46" width="11.7" height="9.1" fill="#0f5289"/>
<rect x="342.8" y="290.24" width="12" height="9.54" fill="#e5e5e5"/>
<rect x="355.86" y="290.24" width="12" height="9.54" fill="#e5e5e5"/>
<rect x="55.3" y="300.61" width="12" height="9.54" fill="#e5e5e5"/>
<rect x="68.37" y="300.61" width="12" height="9.54" fill="#e5e5e5"/>
<rect x="81.44" y="300.61" width="12" height="9.54" fill="#e5e5e5"/>
<rect x="94.5" y="300.61" width="12" height="9.54" fill="#e5e5e5"/>
<rect x="107.57" y="300.61" width="12" height="9.54" fill="#e5e5e5"/>
<rect x="120.64" y="300.61" width="12" height="9.54" fill="#e5e5e5"/>
<rect x="133.71" y="300.61" width="12" height="9.54" fill="#e5e5e5"/>
<rect x="146.78" y="300.61" width="12" height="9.54" fill="#e5e5e5"/>
<rect x="159.84" y="300.61" width="12" height="9.54" fill="#e5e5e5"/>
<rect x="172.91" y="300.61" width="12" height="9.54" fill="#e5e5e5"/>
<rect x="185.98" y="300.61" width="12" height="9.54" fill="#e5e5e5"/>
<rect x="199.05" y="300.61" width="12" height="9.54" fill="#e5e5e5"/>
<rect x="212.27" y="300.82" width="11.7" height="9.1" fill="#0f5289"/>
<rect x="225.18" y="300.61" width="12" height="9.54" fill="#e5e5e5"/>
<rect x="238.25" y="300.61" width="12" height="9.54" fill="#e5e5e5"/>
<rect x="251.32" y="300.61" width="12" height="9.54" fill="#e5e5e5"/>
<rect x="264.39" y="300.61" width="12" height="9.54" fill="#e5e5e5"/>
<rect x="277.46" y="300.61" width="12" height="9.54" fill="#e5e5e5"/>
<rect x="290.52" y="300.61" width="12" height="9.54" fill="#e5e5e5"/>
<rect x="303.59" y="300.61" width="12" height="9.54" fill="#e5e5e5"/>
<rect x="316.66" y="300.61" width="12" height="9.54" fill="#e5e5e5"/>
<rect x="329.73" y="300.61" width="12" height="9.54" fill="#e5e5e5"/>
<rect x="342.8" y="300.61" width="12" height="9.54" fill="#e5e5e5"/>
<rect x="355.86" y="300.61" width="12" height="9.54" fill="#e5e5e5"/>
<rect x="55.3" y="310.97" width="12" height="9.54" fill="#e5e5e5"/>
<rect x="68.37" y="310.97" width="12" height="9.54" fill="#e5e5e5"/>
<rect x="81.44" y="310.97" width="12" height="9.54" fill="#e5e5e5"/>
<rect x="94.5" y="310.97" width="12" height="9.54" fill="#e5e5e5"/>
<rect x="107.57" y="310.97" width="12" height="9.54" fill="#e5e5e5"/>
<rect x="120.64" y="310.97" width="12" height="9.54" fill="#e5e5e5"/>
<rect x="133.71" y="310.97" width="12" height="9.54" fill="#e5e5e5"/>
<rect x="146.78" y="310.97" width="12" height="9.54" fill="#e5e5e5"/>
<rect x="159.84" y="310.97" width="12" height="9.54" fill="#e5e5e5"/>
<rect x="172.91" y="310.97" width="12" height="9.54" fill="#e5e5e5"/>
<rect x="185.98" y="310.97" width="12" height="9.54" fill="#e5e5e5"/>
<rect x="199.05" y="310.97" width="12" height="9.54" fill="#e5e5e5"/>
<rect x="212.12" y="310.97" width="12" height="9.54" fill="#e5e5e5"/>
<rect x="225.18" y="310.97" width="12" height="9.54" fill="#e5e5e5"/>
<rect x="238.25" y="310.97" width="12" height="9.54" fill="#e5e5e5"/>
<rect x="251.32" y="310.97" width="12" height="9.54" fill="#e5e5e5"/>
<rect x="264.39" y="310.97" width="12" height="9.54" fill="#e5e5e5"/>
<rect x="277.46" y="310.97" width="12" height="9.54" fill="#e5e5e5"/>
<rect x="290.52" y="310.97" width="12" height="9.54" fill="#e5e5e5"/>
<rect x="303.59" y="310.97" width="12" height="9.54" fill="#e5e5e5"/>
<rect x="316.81" y="311.19" width="11.7" height="9.1" fill="#0f5289"/>
<rect x="329.73" y="310.97" width="12" height="9.54" fill="#e5e5e5"/>
<rect x="342.8" y="310.97" width="12" height="9.54" fill="#e5e5e5"/>
<rect x="355.86" y="310.97" width="12" height="9.54" fill="#e5e5e5"/>
<rect x="55.3" y="321.34" width="12" height="9.54" fill="#e5e5e5"/>
<rect x="68.37" y="321.34" width="12" height="9.54" fill="#e5e5e5"/>
<rect x="81.44" y="321.34" width="12" height="9.54" fill="#e5e5e5"/>
<rect x="94.5" y="321.34" width="12" height="9.54" fill="#e5e5e5"/>
<rect x="107.57" y="321.34" width="12" height="9.54" fill="#e5e5e5"/>
<rect x="120.64" y="321.34" width="12" height="9.54" fill="#e5e5e5"/>
<rect x="133.71" y="321.34" width="12" height="9.54" fill="#e5e5e5"/>
<rect x="146.78" y="321.34" width="12" height="9.54" fill="#e5e5e5"/>
<rect x="159.84" y="321.34" width="12" height="9.54" fill="#e5e5e5"/>
<rect x="172.91" y="321.34" width="12" height="9.54" fill="#e5e5e5"/>
<rect x="185.98" y="321.34" width="12" height="9.54" fill="#e5e5e5"/>
<rect x="199.05" y="321.34" width="12" height="9.54" fill="#e5e5e5"/>
<rect x="212.12" y="321.34" width="12" height="9.54" fill="#e5e5e5"/>
<rect x="225.18" y="321.34" width="12" height="9.54" fill="#e5e5e5"/>
<rect x="238.25" y="321.34" width="12" height="9.54" fill="#e5e5e5"/>
<rect x="251.32" y="321.34" width="12" height="9.54" fill="#e5e5e5"/>
<rect x="264.39" y="321.34" width="12" height="9.54" fill="#e5e5e5"/>
<rect x="277.46" y="321.34" width="12" height="9.54" fill="#e5e5e5"/>
<rect x="290.52" y="321.34" width="12" height="9.54" fill="#e5e5e5"/>
<rect x="303.59" y="321.34" width="12" height="9.54" fill="#e5e5e5"/>
<rect x="316.66" y="321.34" width="12" height="9.54" fill="#e5e5e5"/>
<rect x="329.73" y="321.34" width="12" height="9.54" fill="#e5e5e5"/>
<rect x="342.8" y="321.34" width="12" height="9.54" fill="#e5e5e5"/>
<rect x="356.01" y="321.56" width="11.7" height="9.1" fill="#0f5289"/>
<rect x="55.3" y="331.7" width="12" height="9.54" fill="#e5e5e5"/>
<rect x="68.37" y="331.7" width="12" height="9.54" fill="#e5e5e5"/>
<rect x="81.44" y="331.7" width="12" height="9.54" fill="#e5e5e5"/>
<rect x="94.5" y="331.7" width="12" height="9.54" fill="#e5e5e5"/>
<rect x="107.57" y="331.7" width="12" height="9.54" fill="#e5e5e5"/>
<rect x="120.64" y="331.7" width="12" height="9.54" fill="#e5e5e5"/>
<rect x="133.71" y="331.7" width="12" height="9.54" fill="#e5e5e5"/>
<rect x="146.78" y="331.7" width="12" height="9.54" fill="#e5e5e5"/>
<rect x="159.84" y="331.7" width="12" height="9.54" fill="#e5e5e5"/>
<rect x="172.91" y="331.7" width="12" height="9.54" fill="#e5e5e5"/>
<rect x="185.98" y="331.7" width="12" height="9.54" fill="#e5e5e5"/>
<rect x="199.05" y="331.7" width="12" height="9.54" fill="#e5e5e5"/>
<rect x="212.12" y="331.7" width="12" height="9.54" fill="#e5e5e5"/>
<rect x="225.33" y="331.92" width="11.7" height="9.1" fill="#0f5289"/>
<rect x="238.25" y="331.7" width="12" height="9.54" fill="#e5e5e5"/>
<rect x="251.32" y="331.7" width="12" height="9.54" fill="#e5e5e5"/>
<rect x="264.39" y="331.7" width="12" height="9.54" fill="#e5e5e5"/>
<rect x="277.46" y="331.7" width="12" height="9.54" fill="#e5e5e5"/>
<rect x="290.52" y="331.7" width="12" height="9.54" fill="#e5e5e5"/>
<rect x="303.59" y="331.7" width="12" height="9.54" fill="#e5e5e5"/>
<rect x="316.66" y="331.7" width="12" height="9.54" fill="#e5e5e5"/>
<rect x="329.73" y="331.7" width="12" height="9.54" fill="#e5e5e5"/>
<rect x="342.8" y="331.7" width="12" height="9.54" fill="#e5e5e5"/>
<rect x="355.86" y="331.7" width="12" height="9.54" fill="#e5e5e5"/>
<rect x="55.3" y="342.06" width="12" height="9.54" fill="#e5e5e5"/>
<rect x="68.37" y="342.06" width="12" height="9.54" fill="#e5e5e5"/>
<rect x="81.44" y="342.06" width="12" height="9.54" fill="#e5e5e5"/>
<rect x="94.5" y="342.06" width="12" height="9.54" fill="#e5e5e5"/>
<rect x="107.57" y="342.06" width="12" height="9.54" fill="#e5e5e5"/>
<rect x="120.64" y="342.06" width="12" height="9.54" fill="#e5e5e5"/>
<rect x="133.71" y="342.06" width="12" height="9.54" fill="#e5e5e5"/>
<rect x="146.78" y="342.06" width="12" height="9.54" fill="#e5e5e5"/>
<rect x="159.99" y="342.28" width="11.7" height="9.1" fill="#0f5289"/>
<rect x="172.91" y="342.06" width="12" height="9.54" fill="#e5e5e5"/>
<rect x="185.98" y="342.06" width="12" height="9.54" fill="#e5e5e5"/>
<rect x="199.05" y="342.06" width="12" height="9.54" fill="#e5e5e5"/>
<rect x="212.12" y="342.06" width="12" height="9.54" fill="#e5e5e5"/>
<rect x="225.18" y="342.06" width="12" height="9.54" fill="#e5e5e5"/>
<rect x="238.25" y="342.06" width="12" height="9.54" fill="#e5e5e5"/>
<rect x="251.32" y="342.06" width="12" height="9.54" fill="#e5e5e5"/>
<rect x="264.39" y="342.06" width="12" height="9.54" fill="#e5e5e5"/>
<rect x="277.46" y="342.06" width="12" height="9.54" fill="#e5e5e5"/>
<rect x="290.52" y="342.06" width="12" height="9.54" fill="#e5e5e5"/>
<rect x="303.59" y="342.06" width="12" height="9.54" fill="#e5e5e5"/>
<rect x="316.66" y="342.06" width="12" height="9.54" fill="#e5e5e5"/>
<rect x="329.73" y="342.06" width="12" height="9.54" fill="#e5e5e5"/>
<rect x="342.8" y="342.06" width="12" height="9.54" fill="#e5e5e5"/>
<rect x="355.86" y="342.06" width="12" height="9.54" fill="#e5e5e5"/>
<rect x="55.3" y="352.43" width="12" height="9.54" fill="#e5e5e5"/>
<rect x="68.37" y="352.43" width="12" height="9.54" fill="#e5e5e5"/>
<rect x="81.44" y="352.43" width="12" height="9.54" fill="#e5e5e5"/>
<rect x="94.5" y="352.43" width="12" height="9.54" fill="#e5e5e5"/>
<rect x="107.57" y="352.43" width="12" height="9.54" fill="#e5e5e5"/>
<rect x="120.64" y="352.43" width="12" height="9.54" fill="#e5e5e5"/>
<rect x="133.71" y="352.43" width="12" height="9.54" fill="#e5e5e5"/>
<rect x="146.78" y="352.43" width="12" height="9.54" fill="#e5e5e5"/>
<rect x="159.84" y="352.43" width="12" height="9.54" fill="#e5e5e5"/>
<rect x="172.91" y="352.43" width="12" height="9.54" fill="#e5e5e5"/>
<rect x="185.98" y="352.43" width="12" height="9.54" fill="#e5e5e5"/>
<rect x="199.05" y="352.43" width="12" height="9.54" fill="#e5e5e5"/>
<rect x="212.12" y="352.43" width="12" height="9.54" fill="#e5e5e5"/>
<rect x="225.18" y="352.43" width="12" height="9.54" fill="#e5e5e5"/>
<rect x="238.25" y="352.43" width="12" height="9.54" fill="#e5e5e5"/>
<rect x="251.32" y="352.43" width="12" height="9.54" fill="#e5e5e5"/>
<rect x="264.39" y="352.43" width="12" height="9.54" fill="#e5e5e5"/>
<rect x="277.46" y="352.43" width="12" height="9.54" fill="#e5e5e5"/>
<rect x="290.52" y="352.43" width="12" height="9.54" fill="#e5e5e5"/>
<rect x="303.59" y="352.43" width="12" height="9.54" fill="#e5e5e5"/>
<rect x="316.81" y="352.65" width="11.7" height="9.1" fill="#0f5289"/>
<rect x="329.73" y="352.43" width="12" height="9.54" fill="#e5e5e5"/>
<rect x="342.8" y="352.43" width="12" height="9.54" fill="#e5e5e5"/>
<rect x="355.86" y="352.43" width="12" height="9.54" fill="#e5e5e5"/>
<rect x="55.3" y="362.8" width="12" height="9.54" fill="#e5e5e5"/>
<rect x="68.37" y="362.8" width="12" height="9.54" fill="#e5e5e5"/>
<rect x="81.44" y="362.8" width="12" height="9.54" fill="#e5e5e5"/>
<rect x="94.5" y="362.8" width="12" height="9.54" fill="#e5e5e5"/>
<rect x="107.57" y="362.8" width="12" height="9.54" fill="#e5e5e5"/>
<rect x="120.64" y="362.8" width="12" height="9.54" fill="#e5e5e5"/>
<rect x="133.71" y="362.8" width="12" height="9.54" fill="#e5e5e5"/>
<rect x="146.78" y="362.8" width="12" height="9.54" fill="#e5e5e5"/>
<rect x="159.84" y="362.8" width="12" height="9.54" fill="#e5e5e5"/>
<rect x="172.91" y="362.8" width="12" height="9.54" fill="#e5e5e5"/>
<rect x="185.98" y="362.8" width="12" height="9.54" fill="#e5e5e5"/>
<rect x="199.05" y="362.8" width="12" height="9.54" fill="#e5e5e5"/>
<rect x="212.12" y="362.8" width="12" height="9.54" fill="#e5e5e5"/>
<rect x="225.18" y="362.8" width="12" height="9.54" fill="#e5e5e5"/>
<rect x="238.25" y="362.8" width="12" height="9.54" fill="#e5e5e5"/>
<rect x="251.32" y="362.8" width="12" height="9.54" fill="#e5e5e5"/>
<rect x="264.39" y="362.8" width="12" height="9.54" fill="#e5e5e5"/>
<rect x="277.46" y="362.8" width="12" height="9.54" fill="#e5e5e5"/>
<rect x="290.52" y="362.8" width="12" height="9.54" fill="#e5e5e5"/>
<rect x="303.59" y="362.8" width="12" height="9.54" fill="#e5e5e5"/>
<rect x="316.81" y="363.01" width="11.7" height="9.1" fill="#0f5289"/>
<rect x="329.73" y="362.8" width="12" height="9.54" fill="#e5e5e5"/>
<rect x="342.8" y="362.8" width="12" height="9.54" fill="#e5e5e5"/>
<rect x="355.86" y="362.8" width="12" height="9.54" fill="#e5e5e5"/>
<rect x="55.3" y="375.83" width="12" height="9.34" fill="#e5e5e5"/>
<rect x="68.37" y="375.83" width="12" height="9.34" fill="#e5e5e5"/>
<rect x="81.44" y="375.83" width="12" height="9.34" fill="#e5e5e5"/>
<rect x="94.6" y="376.05" width="11.95" height="9.25" fill="#857bc6"/>
<rect x="107.57" y="375.83" width="12" height="9.34" fill="#e5e5e5"/>
<rect x="120.64" y="375.83" width="12" height="9.34" fill="#e5e5e5"/>
<rect x="133.81" y="376.05" width="11.95" height="9.25" fill="#857bc6"/>
<rect x="146.78" y="375.83" width="12" height="9.34" fill="#e5e5e5"/>
<rect x="159.84" y="375.83" width="12" height="9.34" fill="#e5e5e5"/>
<rect x="173.01" y="376.05" width="11.95" height="9.25" fill="#857bc6"/>
<rect x="185.98" y="375.83" width="12" height="9.34" fill="#e5e5e5"/>
<rect x="199.15" y="376.05" width="11.95" height="9.25" fill="#857bc6"/>
<rect x="212.12" y="375.83" width="12" height="9.34" fill="#e5e5e5"/>
<rect x="225.18" y="375.83" width="12" height="9.34" fill="#e5e5e5"/>
<rect x="238.35" y="376.05" width="11.95" height="9.25" fill="#857bc6"/>
<rect x="251.32" y="375.83" width="12" height="9.34" fill="#e5e5e5"/>
<rect x="264.39" y="375.83" width="12" height="9.34" fill="#e5e5e5"/>
<rect x="277.56" y="376.05" width="11.95" height="9.25" fill="#857bc6"/>
<rect x="290.62" y="376.05" width="11.95" height="9.25" fill="#857bc6"/>
<rect x="303.59" y="375.83" width="12" height="9.34" fill="#e5e5e5"/>
<rect x="316.76" y="376.05" width="11.95" height="9.25" fill="#857bc6"/>
<rect x="329.73" y="375.83" width="12" height="9.34" fill="#e5e5e5"/>
<rect x="342.8" y="375.83" width="12" height="9.34" fill="#e5e5e5"/>
<rect x="355.86" y="375.83" width="12" height="9.34" fill="#e5e5e5"/>
<rect x="55.3" y="386.25" width="12" height="9.34" fill="#e5e5e5"/>
<rect x="68.47" y="386.47" width="11.95" height="9.25" fill="#857bc6"/>
<rect x="81.44" y="386.25" width="12" height="9.34" fill="#e5e5e5"/>
<rect x="94.5" y="386.25" width="12" height="9.34" fill="#e5e5e5"/>
<rect x="107.57" y="386.25" width="12" height="9.34" fill="#e5e5e5"/>
<rect x="120.64" y="386.25" width="12" height="9.34" fill="#e5e5e5"/>
<rect x="133.71" y="386.25" width="12" height="9.34" fill="#e5e5e5"/>
<rect x="146.78" y="386.25" width="12" height="9.34" fill="#e5e5e5"/>
<rect x="159.94" y="386.47" width="11.95" height="9.25" fill="#857bc6"/>
<rect x="172.91" y="386.25" width="12" height="9.34" fill="#e5e5e5"/>
<rect x="186.08" y="386.47" width="11.95" height="9.25" fill="#857bc6"/>
<rect x="199.05" y="386.25" width="12" height="9.34" fill="#e5e5e5"/>
<rect x="212.12" y="386.25" width="12" height="9.34" fill="#e5e5e5"/>
<rect x="225.28" y="386.47" width="11.95" height="9.25" fill="#857bc6"/>
<rect x="238.25" y="386.25" width="12" height="9.34" fill="#e5e5e5"/>
<rect x="251.42" y="386.47" width="11.95" height="9.25" fill="#857bc6"/>
<rect x="264.39" y="386.25" width="12" height="9.34" fill="#e5e5e5"/>
<rect x="277.46" y="386.25" width="12" height="9.34" fill="#e5e5e5"/>
<rect x="290.52" y="386.25" width="12" height="9.34" fill="#e5e5e5"/>
<rect x="303.69" y="386.47" width="11.95" height="9.25" fill="#857bc6"/>
<rect x="316.66" y="386.25" width="12" height="9.34" fill="#e5e5e5"/>
<rect x="329.83" y="386.47" width="11.95" height="9.25" fill="#857bc6"/>
<rect x="342.8" y="386.25" width="12" height="9.34" fill="#e5e5e5"/>
<rect x="355.96" y="386.47" width="11.95" height="9.25" fill="#857bc6"/>
<rect x="55.4" y="396.89" width="11.95" height="9.25" fill="#857bc6"/>
<rect x="68.37" y="396.67" width="12" height="9.34" fill="#e5e5e5"/>
<rect x="81.44" y="396.67" width="12" height="9.34" fill="#e5e5e5"/>
<rect x="94.5" y="396.67" width="12" height="9.34" fill="#e5e5e5"/>
<rect x="107.67" y="396.89" width="11.95" height="9.25" fill="#857bc6"/>
<rect x="120.74" y="396.89" width="11.95" height="9.25" fill="#857bc6"/>
<rect x="133.71" y="396.67" width="12" height="9.34" fill="#e5e5e5"/>
<rect x="146.78" y="396.67" width="12" height="9.34" fill="#e5e5e5"/>
<rect x="159.84" y="396.67" width="12" height="9.34" fill="#e5e5e5"/>
<rect x="172.91" y="396.67" width="12" height="9.34" fill="#e5e5e5"/>
<rect x="185.98" y="396.67" width="12" height="9.34" fill="#e5e5e5"/>
<rect x="199.05" y="396.67" width="12" height="9.34" fill="#e5e5e5"/>
<rect x="212.12" y="396.67" width="12" height="9.34" fill="#e5e5e5"/>
<rect x="225.18" y="396.67" width="12" height="9.34" fill="#e5e5e5"/>
<rect x="238.25" y="396.67" width="12" height="9.34" fill="#e5e5e5"/>
<rect x="251.32" y="396.67" width="12" height="9.34" fill="#e5e5e5"/>
<rect x="264.49" y="396.89" width="11.95" height="9.25" fill="#857bc6"/>
<rect x="277.46" y="396.67" width="12" height="9.34" fill="#e5e5e5"/>
<rect x="290.52" y="396.67" width="12" height="9.34" fill="#e5e5e5"/>
<rect x="303.59" y="396.67" width="12" height="9.34" fill="#e5e5e5"/>
<rect x="316.66" y="396.67" width="12" height="9.34" fill="#e5e5e5"/>
<rect x="329.73" y="396.67" width="12" height="9.34" fill="#e5e5e5"/>
<rect x="342.9" y="396.89" width="11.95" height="9.25" fill="#857bc6"/>
<rect x="355.86" y="396.67" width="12" height="9.34" fill="#e5e5e5"/>
<rect x="55.3" y="407.09" width="12" height="9.34" fill="#e5e5e5"/>
<rect x="68.37" y="407.09" width="12" height="9.34" fill="#e5e5e5"/>
<rect x="81.44" y="407.09" width="12" height="9.34" fill="#e5e5e5"/>
<rect x="94.5" y="407.09" width="12" height="9.34" fill="#e5e5e5"/>
<rect x="107.57" y="407.09" width="12" height="9.34" fill="#e5e5e5"/>
<rect x="120.64" y="407.09" width="12" height="9.34" fill="#e5e5e5"/>
<rect x="133.71" y="407.09" width="12" height="9.34" fill="#e5e5e5"/>
<rect x="146.78" y="407.09" width="12" height="9.34" fill="#e5e5e5"/>
<rect x="159.84" y="407.09" width="12" height="9.34" fill="#e5e5e5"/>
<rect x="172.91" y="407.09" width="12" height="9.34" fill="#e5e5e5"/>
<rect x="185.98" y="407.09" width="12" height="9.34" fill="#e5e5e5"/>
<rect x="199.05" y="407.09" width="12" height="9.34" fill="#e5e5e5"/>
<rect x="212.12" y="407.09" width="12" height="9.34" fill="#e5e5e5"/>
<rect x="225.18" y="407.09" width="12" height="9.34" fill="#e5e5e5"/>
<rect x="238.25" y="407.09" width="12" height="9.34" fill="#e5e5e5"/>
<rect x="251.42" y="407.31" width="11.95" height="9.25" fill="#857bc6"/>
<rect x="264.39" y="407.09" width="12" height="9.34" fill="#e5e5e5"/>
<rect x="277.46" y="407.09" width="12" height="9.34" fill="#e5e5e5"/>
<rect x="290.52" y="407.09" width="12" height="9.34" fill="#e5e5e5"/>
<rect x="303.69" y="407.31" width="11.95" height="9.25" fill="#857bc6"/>
<rect x="316.66" y="407.09" width="12" height="9.34" fill="#e5e5e5"/>
<rect x="329.83" y="407.31" width="11.95" height="9.25" fill="#857bc6"/>
<rect x="342.8" y="407.09" width="12" height="9.34" fill="#e5e5e5"/>
<rect x="355.96" y="407.31" width="11.95" height="9.25" fill="#857bc6"/>
<rect x="55.3" y="417.51" width="12" height="9.34" fill="#e5e5e5"/>
<rect x="68.37" y="417.51" width="12" height="9.34" fill="#e5e5e5"/>
<rect x="81.44" y="417.51" width="12" height="9.34" fill="#e5e5e5"/>
<rect x="94.5" y="417.51" width="12" height="9.34" fill="#e5e5e5"/>
<rect x="107.57" y="417.51" width="12" height="9.34" fill="#e5e5e5"/>
<rect x="120.64" y="417.51" width="12" height="9.34" fill="#e5e5e5"/>
<rect x="133.71" y="417.51" width="12" height="9.34" fill="#e5e5e5"/>
<rect x="146.78" y="417.51" width="12" height="9.34" fill="#e5e5e5"/>
<rect x="159.84" y="417.51" width="12" height="9.34" fill="#e5e5e5"/>
<rect x="172.91" y="417.51" width="12" height="9.34" fill="#e5e5e5"/>
<rect x="185.98" y="417.51" width="12" height="9.34" fill="#e5e5e5"/>
<rect x="199.05" y="417.51" width="12" height="9.34" fill="#e5e5e5"/>
<rect x="212.12" y="417.51" width="12" height="9.34" fill="#e5e5e5"/>
<rect x="225.18" y="417.51" width="12" height="9.34" fill="#e5e5e5"/>
<rect x="238.25" y="417.51" width="12" height="9.34" fill="#e5e5e5"/>
<rect x="251.42" y="417.73" width="11.95" height="9.25" fill="#857bc6"/>
<rect x="264.39" y="417.51" width="12" height="9.34" fill="#e5e5e5"/>
<rect x="277.46" y="417.51" width="12" height="9.34" fill="#e5e5e5"/>
<rect x="290.52" y="417.51" width="12" height="9.34" fill="#e5e5e5"/>
<rect x="303.69" y="417.73" width="11.95" height="9.25" fill="#857bc6"/>
<rect x="316.66" y="417.51" width="12" height="9.34" fill="#e5e5e5"/>
<rect x="329.73" y="417.51" width="12" height="9.34" fill="#e5e5e5"/>
<rect x="342.8" y="417.51" width="12" height="9.34" fill="#e5e5e5"/>
<rect x="355.96" y="417.73" width="11.95" height="9.25" fill="#857bc6"/>
<rect x="55.3" y="427.93" width="12" height="9.34" fill="#e5e5e5"/>
<rect x="68.37" y="427.93" width="12" height="9.34" fill="#e5e5e5"/>
<rect x="81.44" y="427.93" width="12" height="9.34" fill="#e5e5e5"/>
<rect x="94.5" y="427.93" width="12" height="9.34" fill="#e5e5e5"/>
<rect x="107.57" y="427.93" width="12" height="9.34" fill="#e5e5e5"/>
<rect x="120.64" y="427.93" width="12" height="9.34" fill="#e5e5e5"/>
<rect x="133.71" y="427.93" width="12" height="9.34" fill="#e5e5e5"/>
<rect x="146.78" y="427.93" width="12" height="9.34" fill="#e5e5e5"/>
<rect x="159.94" y="428.15" width="11.95" height="9.25" fill="#857bc6"/>
<rect x="172.91" y="427.93" width="12" height="9.34" fill="#e5e5e5"/>
<rect x="185.98" y="427.93" width="12" height="9.34" fill="#e5e5e5"/>
<rect x="199.05" y="427.93" width="12" height="9.34" fill="#e5e5e5"/>
<rect x="212.22" y="428.15" width="11.95" height="9.25" fill="#857bc6"/>
<rect x="225.18" y="427.93" width="12" height="9.34" fill="#e5e5e5"/>
<rect x="238.25" y="427.93" width="12" height="9.34" fill="#e5e5e5"/>
<rect x="251.32" y="427.93" width="12" height="9.34" fill="#e5e5e5"/>
<rect x="264.39" y="427.93" width="12" height="9.34" fill="#e5e5e5"/>
<rect x="277.46" y="427.93" width="12" height="9.34" fill="#e5e5e5"/>
<rect x="290.52" y="427.93" width="12" height="9.34" fill="#e5e5e5"/>
<rect x="303.59" y="427.93" width="12" height="9.34" fill="#e5e5e5"/>
<rect x="316.66" y="427.93" width="12" height="9.34" fill="#e5e5e5"/>
<rect x="329.73" y="427.93" width="12" height="9.34" fill="#e5e5e5"/>
<rect x="342.8" y="427.93" width="12" height="9.34" fill="#e5e5e5"/>
<rect x="355.86" y="427.93" width="12" height="9.34" fill="#e5e5e5"/>
<rect x="55.1" y="440.55" width="12.77" height="10.25" fill="#eef1f5"/>
<rect x="55.1" y="453.7" width="12.77" height="10.25" fill="#f6ead5"/>
<rect x="68.17" y="440.55" width="12.77" height="10.25" fill="#fbe3b0"/>
<rect x="68.17" y="453.7" width="12.77" height="10.25" fill="#f9da90"/>
<rect x="81.24" y="440.55" width="12.77" height="10.25" fill="#f6ead5"/>
<rect x="81.24" y="453.7" width="12.77" height="10.25" fill="#f7cc58"/>
<rect x="94.3" y="440.55" width="12.77" height="10.25" fill="#eef1f5"/>
<rect x="94.3" y="453.7" width="12.77" height="10.25" fill="#f6ead5"/>
<rect x="107.37" y="440.55" width="12.77" height="10.25" fill="#fbe3b0"/>
<rect x="107.37" y="453.7" width="12.77" height="10.25" fill="#fbe3b0"/>
<rect x="120.44" y="440.55" width="12.77" height="10.25" fill="#fbe3b0"/>
<rect x="120.44" y="453.7" width="12.77" height="10.25" fill="#fbe3b0"/>
<rect x="133.51" y="440.55" width="12.77" height="10.25" fill="#cb693e"/>
<rect x="133.51" y="453.7" width="12.77" height="10.25" fill="#cb693e"/>
<rect x="146.58" y="440.55" width="12.77" height="10.25" fill="#f7cc58"/>
<rect x="146.58" y="453.7" width="12.77" height="10.25" fill="#f7cc58"/>
<rect x="159.64" y="440.55" width="12.77" height="10.25" fill="#f6ead5"/>
<rect x="159.64" y="453.7" width="12.77" height="10.25" fill="#f3c352"/>
<rect x="172.71" y="440.55" width="12.77" height="10.25" fill="#f6ead5"/>
<rect x="172.71" y="453.7" width="12.77" height="10.25" fill="#f9da90"/>
<rect x="185.78" y="440.55" width="12.77" height="10.25" fill="#f9da90"/>
<rect x="185.78" y="453.7" width="12.77" height="10.25" fill="#f9da90"/>
<rect x="198.85" y="440.55" width="12.77" height="10.25" fill="#eef1f5"/>
<rect x="198.85" y="453.7" width="12.77" height="10.25" fill="#f9e6c0"/>
<rect x="211.92" y="440.55" width="12.77" height="10.25" fill="#f7cc58"/>
<rect x="211.92" y="453.7" width="12.77" height="10.25" fill="#f3c352"/>
<rect x="224.98" y="440.55" width="12.77" height="10.25" fill="#fbe3b0"/>
<rect x="224.98" y="453.7" width="12.77" height="10.25" fill="#fbe3b0"/>
<rect x="238.05" y="440.55" width="12.77" height="10.25" fill="#fbe3b0"/>
<rect x="238.05" y="453.7" width="12.77" height="10.25" fill="#fbe3b0"/>
<rect x="251.12" y="440.55" width="12.77" height="10.25" fill="#b3283f"/>
<rect x="251.12" y="453.7" width="12.77" height="10.25" fill="#b3283f"/>
<rect x="264.19" y="440.55" width="12.77" height="10.25" fill="#eef1f5"/>
<rect x="264.19" y="453.7" width="12.77" height="10.25" fill="#f6ead5"/>
<rect x="277.26" y="440.55" width="12.77" height="10.25" fill="#f9da90"/>
<rect x="277.26" y="453.7" width="12.77" height="10.25" fill="#f9da90"/>
<rect x="290.32" y="440.55" width="12.77" height="10.25" fill="#e7a74a"/>
<rect x="290.32" y="453.7" width="12.77" height="10.25" fill="#e7a74a"/>
<rect x="303.39" y="440.55" width="12.77" height="10.25" fill="#eef1f5"/>
<rect x="303.39" y="453.7" width="12.77" height="10.25" fill="#fbe3b0"/>
<rect x="316.46" y="440.55" width="12.77" height="10.25" fill="#f6ead5"/>
<rect x="316.46" y="453.7" width="12.77" height="10.25" fill="#fbe3b0"/>
<rect x="329.53" y="440.55" width="12.77" height="10.25" fill="#f7cc58"/>
<rect x="329.53" y="453.7" width="12.77" height="10.25" fill="#f3c352"/>
<rect x="342.6" y="440.55" width="12.77" height="10.25" fill="#f6ead5"/>
<rect x="342.6" y="453.7" width="12.77" height="10.25" fill="#fbe3b0"/>
<rect x="355.66" y="440.55" width="12.2" height="10.25" fill="#e7a74a"/>
<rect x="355.66" y="453.7" width="12.2" height="10.25" fill="#e7a74a"/>
<rect x="67.05" y="467.5" width="1.57" height="8.6" fill="#dde4ee"/>
<rect x="80.12" y="467.5" width="1.57" height="8.6" fill="#dde4ee"/>
<rect x="93.19" y="467.5" width="1.57" height="8.6" fill="#dde4ee"/>
<rect x="106.25" y="467.5" width="1.57" height="8.6" fill="#dde4ee"/>
<rect x="119.32" y="467.5" width="1.57" height="8.6" fill="#dde4ee"/>
<rect x="132.39" y="467.5" width="1.57" height="8.6" fill="#dde4ee"/>
<rect x="145.46" y="467.5" width="1.57" height="8.6" fill="#dde4ee"/>
<rect x="158.53" y="467.5" width="1.57" height="8.6" fill="#dde4ee"/>
<rect x="171.59" y="467.5" width="1.57" height="8.6" fill="#dde4ee"/>
<rect x="210.8" y="467.5" width="1.57" height="8.6" fill="#dde4ee"/>
<rect x="223.87" y="467.5" width="1.57" height="8.6" fill="#dde4ee"/>
<rect x="236.93" y="467.5" width="1.57" height="8.6" fill="#dde4ee"/>
<rect x="250" y="467.5" width="1.57" height="8.6" fill="#dde4ee"/>
<rect x="263.07" y="467.5" width="1.57" height="8.6" fill="#dde4ee"/>
<rect x="276.14" y="467.5" width="1.57" height="8.6" fill="#dde4ee"/>
<rect x="289.21" y="467.5" width="1.57" height="8.6" fill="#dde4ee"/>
<rect x="302.27" y="467.5" width="1.57" height="8.6" fill="#dde4ee"/>
<rect x="341.48" y="467.5" width="1.57" height="8.6" fill="#dde4ee"/>
<rect x="354.55" y="467.5" width="1.57" height="8.6" fill="#dde4ee"/>
<rect x="55.45" y="467.5" width="11.7" height="8.6" fill="#3d4b5c"/>
<rect x="68.52" y="467.5" width="11.7" height="8.6" fill="#3d4b5c"/>
<rect x="81.59" y="467.5" width="11.7" height="8.6" fill="#3d4b5c"/>
<rect x="94.65" y="467.5" width="11.7" height="8.6" fill="#3d4b5c"/>
<rect x="107.72" y="467.5" width="11.7" height="8.6" fill="#3d4b5c"/>
<rect x="120.79" y="467.5" width="11.7" height="8.6" fill="#3d4b5c"/>
<rect x="133.86" y="467.5" width="11.7" height="8.6" fill="#3d4b5c"/>
<rect x="146.93" y="467.5" width="11.7" height="8.6" fill="#3d4b5c"/>
<rect x="159.99" y="467.5" width="11.7" height="8.6" fill="#3d4b5c"/>
<rect x="173.06" y="467.5" width="11.7" height="8.6" fill="#3d4b5c"/>
<rect x="186.13" y="467.5" width="11.7" height="8.6" fill="#2ab83f"/>
<rect x="199.2" y="467.5" width="11.7" height="8.6" fill="#3d4b5c"/>
<rect x="212.27" y="467.5" width="11.7" height="8.6" fill="#3d4b5c"/>
<rect x="225.33" y="467.5" width="11.7" height="8.6" fill="#3d4b5c"/>
<rect x="238.4" y="467.5" width="11.7" height="8.6" fill="#3d4b5c"/>
<rect x="251.47" y="467.5" width="11.7" height="8.6" fill="#3d4b5c"/>
<rect x="264.54" y="467.5" width="11.7" height="8.6" fill="#3d4b5c"/>
<rect x="277.61" y="467.5" width="11.7" height="8.6" fill="#3d4b5c"/>
<rect x="290.67" y="467.5" width="11.7" height="8.6" fill="#3d4b5c"/>
<rect x="303.74" y="467.5" width="11.7" height="8.6" fill="#3d4b5c"/>
<rect x="316.81" y="467.5" width="11.7" height="8.6" fill="#2ab83f"/>
<rect x="329.88" y="467.5" width="11.7" height="8.6" fill="#3d4b5c"/>
<rect x="342.95" y="467.5" width="11.7" height="8.6" fill="#3d4b5c"/>
<rect x="356.01" y="467.5" width="11.7" height="8.6" fill="#3d4b5c"/>
<rect x="415.7" y="192.3" width="6.2" height="6.2" fill="#0f5289"/>
<rect x="415.7" y="204" width="6.2" height="6.2" fill="#fdb913"/>
<rect x="415.7" y="215.7" width="6.2" height="6.2" fill="#c8102e"/>
<rect x="415.7" y="227.4" width="6.2" height="6.2" fill="#0f5289"/>
<rect x="415.7" y="409.6" width="6.2" height="6.2" fill="#857bc6"/>
<rect x="416.3" y="446.7" width="93.8" height="5.7" rx="0.8" fill="url(#hg)"/>
<rect x="415.7" y="474.6" width="6.2" height="6.2" fill="#3d4b5c"/>
<rect x="449.6" y="474.6" width="6.2" height="6.2" fill="#2ab83f"/>
</g></defs>
<use href="#shp" x="-0.22" y="-0.22"/>
<use href="#shp" x="0.22" y="-0.22" opacity="0.5"/>
<use href="#shp" x="-0.22" y="0.22" opacity="0.3333"/>
<use href="#shp" x="0.22" y="0.22" opacity="0.25"/>
<g id="bars">
<rect x="395.9" y="178.1" width="2.41" height="6.1" fill="#0e4a80"/>
<rect x="395.9" y="188.46" width="2.41" height="6.1" fill="#0e4a80"/>
<rect x="395.9" y="198.83" width="2.41" height="6.1" fill="#0e4a80"/>
<rect x="395.9" y="209.19" width="2.41" height="6.1" fill="#0e4a80"/>
<rect x="395.9" y="219.56" width="2.41" height="6.1" fill="#0e4a80"/>
<rect x="395.9" y="229.92" width="2.41" height="6.1" fill="#0e4a80"/>
<rect x="396" y="240.19" width="1.21" height="6.3" fill="#173f6b"/>
<rect x="396" y="250.55" width="1.21" height="6.3" fill="#173f6b"/>
<rect x="396" y="260.91" width="1.21" height="6.3" fill="#173f6b"/>
<rect x="396" y="271.28" width="1.21" height="6.3" fill="#173f6b"/>
<rect x="396" y="281.64" width="1.21" height="6.3" fill="#173f6b"/>
<rect x="396" y="292.01" width="1.21" height="6.3" fill="#173f6b"/>
<rect x="396" y="302.38" width="1.21" height="6.3" fill="#173f6b"/>
<rect x="396" y="312.74" width="1.21" height="6.3" fill="#173f6b"/>
<rect x="396" y="323.11" width="1.21" height="6.3" fill="#173f6b"/>
<rect x="396" y="333.47" width="1.21" height="6.3" fill="#173f6b"/>
<rect x="396" y="343.83" width="1.21" height="6.3" fill="#173f6b"/>
<rect x="396" y="354.2" width="1.21" height="6.3" fill="#173f6b"/>
<rect x="396" y="364.56" width="1.21" height="6.3" fill="#173f6b"/>
</g>
<g id="axes" stroke="#1a1718" stroke-width="1.3" fill="none">
<line x1="54.9" y1="7.07" x2="54.9" y2="33.7"/>
<line x1="51.6" y1="33.2" x2="54.9" y2="33.2"/>
<line x1="51.6" y1="27.67" x2="54.9" y2="27.67"/>
<line x1="51.6" y1="22.14" x2="54.9" y2="22.14"/>
<line x1="51.6" y1="16.61" x2="54.9" y2="16.61"/>
<line x1="51.6" y1="11.08" x2="54.9" y2="11.08"/>
<line x1="395.4" y1="40.95" x2="421.67" y2="40.95"/>
<line x1="396" y1="37.85" x2="396" y2="40.95"/>
<line x1="406.57" y1="37.85" x2="406.57" y2="40.95"/>
<line x1="417.14" y1="37.85" x2="417.14" y2="40.95"/>
</g>
<g id="labels">
<text x="48.4" y="35.4" class="ax" text-anchor="end">0</text>
<text x="48.4" y="29.87" class="ax" text-anchor="end">2</text>
<text x="48.4" y="24.34" class="ax" text-anchor="end">4</text>
<text x="48.4" y="18.81" class="ax" text-anchor="end">6</text>
<text x="48.4" y="13.28" class="ax" text-anchor="end">8</text>
<text x="52" y="48.95" class="g" text-anchor="end">RUNX1</text>
<text x="371.15" y="48.8" class="pc">100<tspan class="pt">%</tspan></text>
<text transform="translate(52 59.32) scale(0.965 1)" class="g" text-anchor="end">ASXL1</text>
<text x="371.15" y="59.16" class="pc">46<tspan class="pt">%</tspan></text>
<text x="52" y="69.68" class="g" text-anchor="end">SRSF2</text>
<text x="371.15" y="69.53" class="pc">33<tspan class="pt">%</tspan></text>
<text transform="translate(52 80.05) scale(0.925 1)" class="g" text-anchor="end">TET2</text>
<text x="371.15" y="79.89" class="pc">33<tspan class="pt">%</tspan></text>
<text x="52" y="90.41" class="g" text-anchor="end">PTPN11</text>
<text x="371.15" y="90.26" class="pc">21<tspan class="pt">%</tspan></text>
<text x="52" y="100.78" class="g" text-anchor="end">CBL</text>
<text x="371.15" y="100.62" class="pc">17<tspan class="pt">%</tspan></text>
<text x="52" y="111.14" class="g" text-anchor="end">DNMT3A</text>
<text x="371.15" y="110.99" class="pc">17<tspan class="pt">%</tspan></text>
<text x="52" y="121.51" class="g" text-anchor="end">IKZF1</text>
<text x="371.15" y="121.36" class="pc">17<tspan class="pt">%</tspan></text>
<text x="52" y="131.87" class="g" text-anchor="end">NRAS</text>
<text x="371.15" y="131.72" class="pc">17<tspan class="pt">%</tspan></text>
<text x="52" y="142.23" class="g" text-anchor="end">BCOR</text>
<text x="371.15" y="142.09" class="pc">12<tspan class="pt">%</tspan></text>
<text x="52" y="152.6" class="g" text-anchor="end">NF1</text>
<text x="371.15" y="152.45" class="pc">12<tspan class="pt">%</tspan></text>
<text x="52" y="162.96" class="g" text-anchor="end">SETBP1</text>
<text x="371.15" y="162.81" class="pc">12<tspan class="pt">%</tspan></text>
<text x="52" y="173.33" class="g" text-anchor="end">WT1</text>
<text x="371.15" y="173.18" class="pc">12<tspan class="pt">%</tspan></text>
<text x="52" y="183.69" class="g" text-anchor="end">EZH2</text>
<text x="371.15" y="183.55" class="pc">8<tspan class="pt">%</tspan></text>
<text transform="translate(52 194.06) scale(0.92 1)" class="g" text-anchor="end">JAK2</text>
<text x="371.15" y="193.91" class="pc">8<tspan class="pt">%</tspan></text>
<text transform="translate(52 204.42) scale(0.935 1)" class="g" text-anchor="end">KMT2A</text>
<text x="371.15" y="204.28" class="pc">8<tspan class="pt">%</tspan></text>
<text transform="translate(52 214.79) scale(0.965 1)" class="g" text-anchor="end">PHF6</text>
<text x="371.15" y="214.64" class="pc">8<tspan class="pt">%</tspan></text>
<text transform="translate(52 225.16) scale(0.975 1)" class="g" text-anchor="end">SF3B1</text>
<text x="371.15" y="225.01" class="pc">8<tspan class="pt">%</tspan></text>
<text transform="translate(52 235.52) scale(0.91 1)" class="g" text-anchor="end">STAG2</text>
<text x="371.15" y="235.37" class="pc">8<tspan class="pt">%</tspan></text>
<text transform="translate(52 245.88) scale(0.9 1)" class="g" text-anchor="end">ASXL2</text>
<text x="371.15" y="245.74" class="pc">4<tspan class="pt">%</tspan></text>
<text transform="translate(52 256.25) scale(0.985 1)" class="g" text-anchor="end">BRAF</text>
<text x="371.15" y="256.1" class="pc">4<tspan class="pt">%</tspan></text>
<text transform="translate(52 266.61) scale(0.965 1)" class="g" text-anchor="end">CEBPA-bzip</text>
<text x="371.15" y="266.46" class="pc">4<tspan class="pt">%</tspan></text>
<text x="52" y="276.98" class="g" text-anchor="end">CREBBP</text>
<text x="371.15" y="276.83" class="pc">4<tspan class="pt">%</tspan></text>
<text transform="translate(52 287.34) scale(0.945 1)" class="g" text-anchor="end">DDX41</text>
<text x="371.15" y="287.19" class="pc">4<tspan class="pt">%</tspan></text>
<text transform="translate(52 297.71) scale(0.93 1)" class="g" text-anchor="end">GATA2</text>
<text x="371.15" y="297.56" class="pc">4<tspan class="pt">%</tspan></text>
<text transform="translate(52 308.07) scale(0.975 1)" class="g" text-anchor="end">IDH2</text>
<text x="371.15" y="307.93" class="pc">4<tspan class="pt">%</tspan></text>
<text transform="translate(52 318.44) scale(0.92 1)" class="g" text-anchor="end">JAK1</text>
<text x="371.15" y="318.29" class="pc">4<tspan class="pt">%</tspan></text>
<text transform="translate(52 328.81) scale(0.935 1)" class="g" text-anchor="end">KIT</text>
<text x="371.15" y="328.66" class="pc">4<tspan class="pt">%</tspan></text>
<text transform="translate(52 339.17) scale(0.94 1)" class="g" text-anchor="end">MPL</text>
<text x="371.15" y="339.02" class="pc">4<tspan class="pt">%</tspan></text>
<text transform="translate(52 349.53) scale(0.975 1)" class="g" text-anchor="end">SH2B3</text>
<text x="371.15" y="349.38" class="pc">4<tspan class="pt">%</tspan></text>
<text transform="translate(52 359.9) scale(0.935 1)" class="g" text-anchor="end">TP53</text>
<text x="371.15" y="359.75" class="pc">4<tspan class="pt">%</tspan></text>
<text transform="translate(52 370.26) scale(0.95 1)" class="g" text-anchor="end">ZRSR2</text>
<text x="371.15" y="370.12" class="pc">4<tspan class="pt">%</tspan></text>
<text x="398.3" y="34.5" class="rx" transform="rotate(-90 398.3 34.5)">0</text>
<text x="408.87" y="34.5" class="rx" transform="rotate(-90 408.87 34.5)">10</text>
<text x="419.44" y="34.5" class="rx" transform="rotate(-90 419.44 34.5)">20</text>
<text x="52" y="383.3" class="cy" text-anchor="end">Other Int</text>
<text x="371.15" y="383.15" class="pc">33<tspan class="pt">%</tspan></text>
<text transform="translate(52 393.72) scale(0.975 1)" class="cy" text-anchor="end">Complex</text>
<text x="371.15" y="393.57" class="pc">33<tspan class="pt">%</tspan></text>
<text x="52" y="404.14" class="cy" text-anchor="end">Diploid</text>
<text x="371.15" y="403.99" class="pc">21<tspan class="pt">%</tspan></text>
<text transform="translate(52 414.56) scale(1.06 1)" class="cy" text-anchor="end">MECOM</text>
<text x="371.15" y="414.41" class="pc">17<tspan class="pt">%</tspan></text>
<text x="52" y="424.98" class="cy" text-anchor="end">−7</text>
<text x="371.15" y="424.83" class="pc">12<tspan class="pt">%</tspan></text>
<text x="52" y="435.4" class="cy" text-anchor="end">−17/abn(17p)</text>
<text x="371.15" y="435.25" class="pc">8<tspan class="pt">%</tspan></text>
<text x="52" y="448.38" class="cy" text-anchor="end">AML Salvage</text>
<text transform="translate(52 461.02) scale(0.97 1)" class="cy" text-anchor="end">Prior Lines</text>
<text transform="translate(52 473.9) scale(0.975 1)" class="cy" text-anchor="end">Diagnosis</text>
<text x="415.7" y="186" class="lg">Mutations</text>
<text x="425.4" y="198.2" class="lg">1 RUNX1 Mutation</text>
<text x="425.4" y="209.9" class="lg">2 RUNX1 Mutations</text>
<text x="425.4" y="221.6" class="lg">3 RUNX1 Mutations</text>
<text x="425.4" y="233.3" class="lg">Other Mutations</text>
<text x="415.7" y="403.5" class="lg">Cytogenetics</text>
<text x="425.2" y="415" class="lg">Karyotypic Abnormality</text>
<text x="416.4" y="442.1" class="lg">Prior Rx Lines</text>
<text x="417.8" y="462.4" class="lg" text-anchor="middle">1</text>
<text x="435.8" y="462.4" class="lg" text-anchor="middle">3</text>
<text x="453.8" y="462.4" class="lg" text-anchor="middle">5</text>
<text x="472" y="462.4" class="lg" text-anchor="middle">7</text>
<text x="490.2" y="462.4" class="lg" text-anchor="middle">9</text>
<text x="508" y="462.4" class="lg" text-anchor="middle">11</text>
<text x="425" y="480.1" class="lg">AML</text>
<text x="459" y="480.1" class="lg">MDS</text>
</g>
</svg>
<div id="frame"></div>
</body></html>
